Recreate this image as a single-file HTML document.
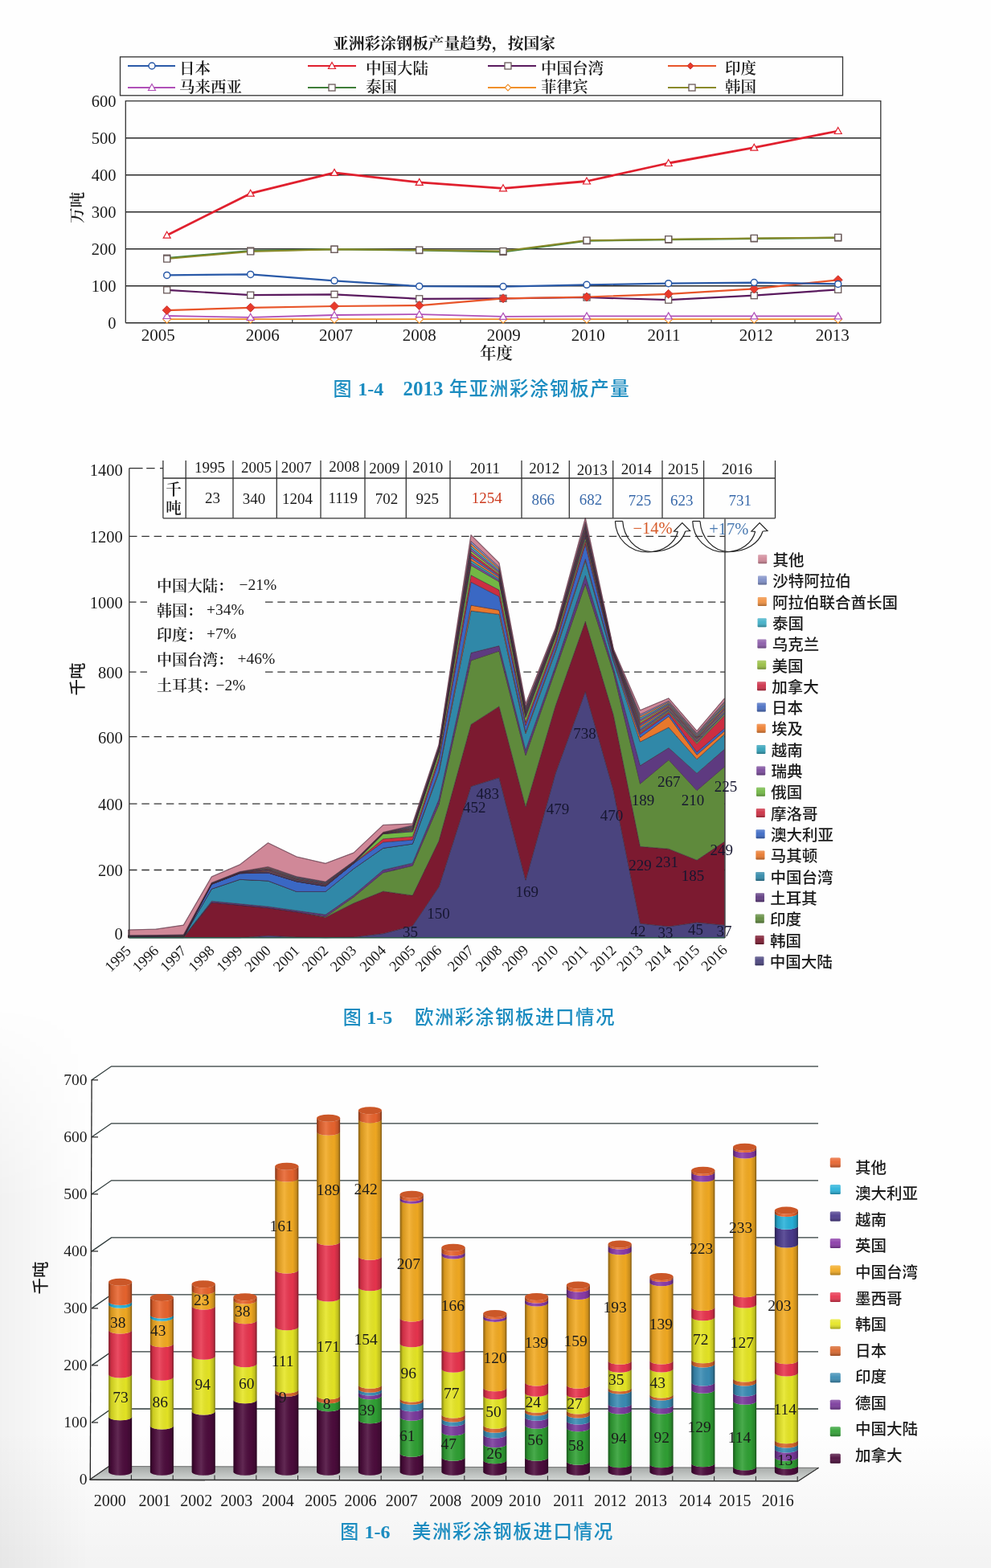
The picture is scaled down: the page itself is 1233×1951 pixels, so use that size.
<!DOCTYPE html>
<html><head><meta charset="utf-8"><title>彩涂钢板</title>
<style>html,body{margin:0;padding:0;background:#fefefe;} svg{display:block;}</style>
</head><body>
<svg width="1233" height="1951" viewBox="0 0 1233 1951"><defs><linearGradient id="cyl" x1="0" x2="1" y1="0" y2="0"><stop offset="0" stop-color="#000" stop-opacity="0.45"/><stop offset="0.12" stop-color="#000" stop-opacity="0.12"/><stop offset="0.4" stop-color="#fff" stop-opacity="0.12"/><stop offset="0.75" stop-color="#000" stop-opacity="0.02"/><stop offset="0.92" stop-color="#000" stop-opacity="0.18"/><stop offset="1" stop-color="#000" stop-opacity="0.5"/></linearGradient><linearGradient id="sqg" x1="0" x2="0" y1="0" y2="1"><stop offset="0" stop-color="#fff" stop-opacity="0.25"/><stop offset="0.45" stop-color="#fff" stop-opacity="0.05"/><stop offset="1" stop-color="#000" stop-opacity="0.3"/></linearGradient><linearGradient id="floorg" x1="0" x2="0" y1="0" y2="1"><stop offset="0" stop-color="#a4a8a6"/><stop offset="1" stop-color="#d4d8d6"/></linearGradient></defs><rect width="1233" height="1951" fill="#fefefe"/><defs><linearGradient id="bgb" x1="0" x2="0" y1="0" y2="1"><stop offset="0" stop-color="#000" stop-opacity="0"/><stop offset="1" stop-color="#000" stop-opacity="0.045"/></linearGradient><linearGradient id="bgl" x1="0" x2="1" y1="0" y2="0"><stop offset="0" stop-color="#000" stop-opacity="0.05"/><stop offset="1" stop-color="#000" stop-opacity="0"/></linearGradient><linearGradient id="bglv" x1="0" x2="0" y1="0" y2="1"><stop offset="0" stop-color="#fff" stop-opacity="0"/><stop offset="0.35" stop-color="#fff" stop-opacity="1"/></linearGradient><mask id="bgm" maskUnits="userSpaceOnUse" x="0" y="1250" width="120" height="701"><rect x="0" y="1250" width="120" height="701" fill="url(#bglv)"/></mask></defs><rect x="0" y="1780" width="1233" height="171" fill="url(#bgb)"/><rect x="0" y="1250" width="110" height="701" fill="url(#bgl)" mask="url(#bgm)"/><text x="414.0" y="54.6" font-family="'Liberation Serif', 'Noto Serif CJK SC', serif" font-size="19.5" text-anchor="start" dominant-baseline="central" fill="#1a1a1a" font-weight="700" textLength="277" lengthAdjust="spacingAndGlyphs">亚洲彩涂钢板产量趋势，按国家</text>
<rect x="149.5" y="70.8" width="899" height="48" fill="none" stroke="#333" stroke-width="1.3"/>
<path d="M156.3,401.7 L156.3,125.6 L1095.8,125.6 L1095.8,401.7" fill="none" stroke="#333" stroke-width="1.3"/>
<line x1="156.3" y1="355.7" x2="1095.8" y2="355.7" stroke="#2a2a2a" stroke-width="1.4" />
<line x1="156.3" y1="309.7" x2="1095.8" y2="309.7" stroke="#2a2a2a" stroke-width="1.4" />
<line x1="156.3" y1="263.7" x2="1095.8" y2="263.7" stroke="#2a2a2a" stroke-width="1.4" />
<line x1="156.3" y1="217.7" x2="1095.8" y2="217.7" stroke="#2a2a2a" stroke-width="1.4" />
<line x1="156.3" y1="171.7" x2="1095.8" y2="171.7" stroke="#2a2a2a" stroke-width="1.4" />
<line x1="156.3" y1="401.7" x2="1095.8" y2="401.7" stroke="#2a2a2a" stroke-width="1.6" />
<line x1="259.7" y1="401.7" x2="259.7" y2="397.7" stroke="#333" stroke-width="1.2" />
<line x1="363.8" y1="401.7" x2="363.8" y2="397.7" stroke="#333" stroke-width="1.2" />
<line x1="468.5" y1="401.7" x2="468.5" y2="397.7" stroke="#333" stroke-width="1.2" />
<line x1="573.0" y1="401.7" x2="573.0" y2="397.7" stroke="#333" stroke-width="1.2" />
<line x1="677.0" y1="401.7" x2="677.0" y2="397.7" stroke="#333" stroke-width="1.2" />
<line x1="781.0" y1="401.7" x2="781.0" y2="397.7" stroke="#333" stroke-width="1.2" />
<line x1="885.0" y1="401.7" x2="885.0" y2="397.7" stroke="#333" stroke-width="1.2" />
<line x1="989.0" y1="401.7" x2="989.0" y2="397.7" stroke="#333" stroke-width="1.2" />
<text x="144.5" y="401.7" font-family="'Liberation Serif','Noto Serif CJK SC',serif" font-size="20.5" text-anchor="end" dominant-baseline="central" fill="#1a1a1a" font-weight="normal" >0</text>
<text x="144.5" y="355.7" font-family="'Liberation Serif','Noto Serif CJK SC',serif" font-size="20.5" text-anchor="end" dominant-baseline="central" fill="#1a1a1a" font-weight="normal" >100</text>
<text x="144.5" y="309.7" font-family="'Liberation Serif','Noto Serif CJK SC',serif" font-size="20.5" text-anchor="end" dominant-baseline="central" fill="#1a1a1a" font-weight="normal" >200</text>
<text x="144.5" y="263.7" font-family="'Liberation Serif','Noto Serif CJK SC',serif" font-size="20.5" text-anchor="end" dominant-baseline="central" fill="#1a1a1a" font-weight="normal" >300</text>
<text x="144.5" y="217.7" font-family="'Liberation Serif','Noto Serif CJK SC',serif" font-size="20.5" text-anchor="end" dominant-baseline="central" fill="#1a1a1a" font-weight="normal" >400</text>
<text x="144.5" y="171.7" font-family="'Liberation Serif','Noto Serif CJK SC',serif" font-size="20.5" text-anchor="end" dominant-baseline="central" fill="#1a1a1a" font-weight="normal" >500</text>
<text x="144.5" y="125.7" font-family="'Liberation Serif','Noto Serif CJK SC',serif" font-size="20.5" text-anchor="end" dominant-baseline="central" fill="#1a1a1a" font-weight="normal" >600</text>
<text x="0" y="0" transform="translate(96.5,258.3) rotate(-90)" font-family="'Liberation Serif', 'Noto Serif CJK SC', serif" font-size="19.5" font-weight="600" text-anchor="middle" dominant-baseline="central" fill="#1a1a1a">万吨</text>
<text x="196.7" y="417.0" font-family="'Liberation Serif','Noto Serif CJK SC',serif" font-size="21" text-anchor="middle" dominant-baseline="central" fill="#1a1a1a" font-weight="normal" >2005</text>
<text x="326.7" y="417.0" font-family="'Liberation Serif','Noto Serif CJK SC',serif" font-size="21" text-anchor="middle" dominant-baseline="central" fill="#1a1a1a" font-weight="normal" >2006</text>
<text x="418.0" y="417.0" font-family="'Liberation Serif','Noto Serif CJK SC',serif" font-size="21" text-anchor="middle" dominant-baseline="central" fill="#1a1a1a" font-weight="normal" >2007</text>
<text x="521.7" y="417.0" font-family="'Liberation Serif','Noto Serif CJK SC',serif" font-size="21" text-anchor="middle" dominant-baseline="central" fill="#1a1a1a" font-weight="normal" >2008</text>
<text x="626.7" y="417.0" font-family="'Liberation Serif','Noto Serif CJK SC',serif" font-size="21" text-anchor="middle" dominant-baseline="central" fill="#1a1a1a" font-weight="normal" >2009</text>
<text x="731.7" y="417.0" font-family="'Liberation Serif','Noto Serif CJK SC',serif" font-size="21" text-anchor="middle" dominant-baseline="central" fill="#1a1a1a" font-weight="normal" >2010</text>
<text x="826.0" y="417.0" font-family="'Liberation Serif','Noto Serif CJK SC',serif" font-size="21" text-anchor="middle" dominant-baseline="central" fill="#1a1a1a" font-weight="normal" >2011</text>
<text x="940.7" y="417.0" font-family="'Liberation Serif','Noto Serif CJK SC',serif" font-size="21" text-anchor="middle" dominant-baseline="central" fill="#1a1a1a" font-weight="normal" >2012</text>
<text x="1035.7" y="417.0" font-family="'Liberation Serif','Noto Serif CJK SC',serif" font-size="21" text-anchor="middle" dominant-baseline="central" fill="#1a1a1a" font-weight="normal" >2013</text>
<text x="617.5" y="440.2" font-family="'Liberation Serif', 'Noto Serif CJK SC', serif" font-size="20.5" text-anchor="middle" dominant-baseline="central" fill="#1a1a1a" font-weight="600" >年度</text>
<polyline points="207.7,397.1 311.7,397.1 416.0,397.1 521.7,397.1 626.0,397.1 730.0,397.1 831.7,397.1 938.3,397.1 1042.7,397.1" fill="none" stroke="#f0902a" stroke-width="1.8" stroke-linejoin="round" />
<path d="M207.7,392.1 L212.7,397.1 L207.7,402.1 L202.7,397.1 Z" fill="#fff" stroke="#f0902a" stroke-width="1.2"/>
<path d="M311.7,392.1 L316.7,397.1 L311.7,402.1 L306.7,397.1 Z" fill="#fff" stroke="#f0902a" stroke-width="1.2"/>
<path d="M416.0,392.1 L421.0,397.1 L416.0,402.1 L411.0,397.1 Z" fill="#fff" stroke="#f0902a" stroke-width="1.2"/>
<path d="M521.7,392.1 L526.7,397.1 L521.7,402.1 L516.7,397.1 Z" fill="#fff" stroke="#f0902a" stroke-width="1.2"/>
<path d="M626.0,392.1 L631.0,397.1 L626.0,402.1 L621.0,397.1 Z" fill="#fff" stroke="#f0902a" stroke-width="1.2"/>
<path d="M730.0,392.1 L735.0,397.1 L730.0,402.1 L725.0,397.1 Z" fill="#fff" stroke="#f0902a" stroke-width="1.2"/>
<path d="M831.7,392.1 L836.7,397.1 L831.7,402.1 L826.7,397.1 Z" fill="#fff" stroke="#f0902a" stroke-width="1.2"/>
<path d="M938.3,392.1 L943.3,397.1 L938.3,402.1 L933.3,397.1 Z" fill="#fff" stroke="#f0902a" stroke-width="1.2"/>
<path d="M1042.7,392.1 L1047.7,397.1 L1042.7,402.1 L1037.7,397.1 Z" fill="#fff" stroke="#f0902a" stroke-width="1.2"/>
<polyline points="207.7,393.0 311.7,394.8 416.0,392.0 521.7,391.1 626.0,393.9 730.0,393.4 831.7,393.4 938.3,393.4 1042.7,393.4" fill="none" stroke="#b050b8" stroke-width="1.8" stroke-linejoin="round" />
<path d="M207.7,388.5 L212.2,396.5 L203.2,396.5 Z" fill="#fff" stroke="#b050b8" stroke-width="1.2"/>
<path d="M311.7,390.3 L316.2,398.3 L307.2,398.3 Z" fill="#fff" stroke="#b050b8" stroke-width="1.2"/>
<path d="M416.0,387.5 L420.5,395.5 L411.5,395.5 Z" fill="#fff" stroke="#b050b8" stroke-width="1.2"/>
<path d="M521.7,386.6 L526.2,394.6 L517.2,394.6 Z" fill="#fff" stroke="#b050b8" stroke-width="1.2"/>
<path d="M626.0,389.4 L630.5,397.4 L621.5,397.4 Z" fill="#fff" stroke="#b050b8" stroke-width="1.2"/>
<path d="M730.0,388.9 L734.5,396.9 L725.5,396.9 Z" fill="#fff" stroke="#b050b8" stroke-width="1.2"/>
<path d="M831.7,388.9 L836.2,396.9 L827.2,396.9 Z" fill="#fff" stroke="#b050b8" stroke-width="1.2"/>
<path d="M938.3,388.9 L942.8,396.9 L933.8,396.9 Z" fill="#fff" stroke="#b050b8" stroke-width="1.2"/>
<path d="M1042.7,388.9 L1047.2,396.9 L1038.2,396.9 Z" fill="#fff" stroke="#b050b8" stroke-width="1.2"/>
<polyline points="207.7,360.8 311.7,367.2 416.0,366.3 521.7,371.8 626.0,371.3 730.0,370.0 831.7,373.2 938.3,367.7 1042.7,360.3" fill="none" stroke="#5a1a5e" stroke-width="2.2" stroke-linejoin="round" />
<rect x="203.7" y="356.8" width="8" height="8" fill="#fff" stroke="#6a5a5a" stroke-width="1.3"/>
<rect x="307.7" y="363.2" width="8" height="8" fill="#fff" stroke="#6a5a5a" stroke-width="1.3"/>
<rect x="412.0" y="362.3" width="8" height="8" fill="#fff" stroke="#6a5a5a" stroke-width="1.3"/>
<rect x="517.7" y="367.8" width="8" height="8" fill="#fff" stroke="#6a5a5a" stroke-width="1.3"/>
<rect x="622.0" y="367.3" width="8" height="8" fill="#fff" stroke="#6a5a5a" stroke-width="1.3"/>
<rect x="726.0" y="366.0" width="8" height="8" fill="#fff" stroke="#6a5a5a" stroke-width="1.3"/>
<rect x="827.7" y="369.2" width="8" height="8" fill="#fff" stroke="#6a5a5a" stroke-width="1.3"/>
<rect x="934.3" y="363.7" width="8" height="8" fill="#fff" stroke="#6a5a5a" stroke-width="1.3"/>
<rect x="1038.7" y="356.3" width="8" height="8" fill="#fff" stroke="#6a5a5a" stroke-width="1.3"/>
<polyline points="207.7,386.1 311.7,382.8 416.0,381.0 521.7,380.1 626.0,371.3 730.0,369.5 831.7,365.8 938.3,359.4 1042.7,348.3" fill="none" stroke="#e8552a" stroke-width="2.2" stroke-linejoin="round" />
<path d="M207.7,380.6 L213.2,386.1 L207.7,391.6 L202.2,386.1 Z" fill="#e83a2a" stroke="#c83a3a" stroke-width="1"/>
<path d="M311.7,377.3 L317.2,382.8 L311.7,388.3 L306.2,382.8 Z" fill="#e83a2a" stroke="#c83a3a" stroke-width="1"/>
<path d="M416.0,375.5 L421.5,381.0 L416.0,386.5 L410.5,381.0 Z" fill="#e83a2a" stroke="#c83a3a" stroke-width="1"/>
<path d="M521.7,374.6 L527.2,380.1 L521.7,385.6 L516.2,380.1 Z" fill="#e83a2a" stroke="#c83a3a" stroke-width="1"/>
<path d="M626.0,365.8 L631.5,371.3 L626.0,376.8 L620.5,371.3 Z" fill="#e83a2a" stroke="#c83a3a" stroke-width="1"/>
<path d="M730.0,364.0 L735.5,369.5 L730.0,375.0 L724.5,369.5 Z" fill="#e83a2a" stroke="#c83a3a" stroke-width="1"/>
<path d="M831.7,360.3 L837.2,365.8 L831.7,371.3 L826.2,365.8 Z" fill="#e83a2a" stroke="#c83a3a" stroke-width="1"/>
<path d="M938.3,353.9 L943.8,359.4 L938.3,364.9 L932.8,359.4 Z" fill="#e83a2a" stroke="#c83a3a" stroke-width="1"/>
<path d="M1042.7,342.8 L1048.2,348.3 L1042.7,353.8 L1037.2,348.3 Z" fill="#e83a2a" stroke="#c83a3a" stroke-width="1"/>
<polyline points="207.7,342.4 311.7,341.4 416.0,349.3 521.7,356.2 626.0,356.6 730.0,354.3 831.7,352.7 938.3,351.6 1042.7,353.4" fill="none" stroke="#2a5aa8" stroke-width="2.2" stroke-linejoin="round" />
<circle cx="207.7" cy="342.4" r="4" fill="#fff" stroke="#2a5aa8" stroke-width="1.5"/>
<circle cx="311.7" cy="341.4" r="4" fill="#fff" stroke="#2a5aa8" stroke-width="1.5"/>
<circle cx="416.0" cy="349.3" r="4" fill="#fff" stroke="#2a5aa8" stroke-width="1.5"/>
<circle cx="521.7" cy="356.2" r="4" fill="#fff" stroke="#2a5aa8" stroke-width="1.5"/>
<circle cx="626.0" cy="356.6" r="4" fill="#fff" stroke="#2a5aa8" stroke-width="1.5"/>
<circle cx="730.0" cy="354.3" r="4" fill="#fff" stroke="#2a5aa8" stroke-width="1.5"/>
<circle cx="831.7" cy="352.7" r="4" fill="#fff" stroke="#2a5aa8" stroke-width="1.5"/>
<circle cx="938.3" cy="351.6" r="4" fill="#fff" stroke="#2a5aa8" stroke-width="1.5"/>
<circle cx="1042.7" cy="353.4" r="4" fill="#fff" stroke="#2a5aa8" stroke-width="1.5"/>
<polyline points="207.7,321.2 311.7,312.0 416.0,310.2 521.7,311.5 626.0,313.4 730.0,299.6 831.7,298.2 938.3,296.8 1042.7,295.9" fill="none" stroke="#3e7e38" stroke-width="2.2" stroke-linejoin="round" />
<rect x="203.7" y="317.2" width="8" height="8" fill="#fff" stroke="#6a5a5a" stroke-width="1.3"/>
<rect x="307.7" y="308.0" width="8" height="8" fill="#fff" stroke="#6a5a5a" stroke-width="1.3"/>
<rect x="412.0" y="306.2" width="8" height="8" fill="#fff" stroke="#6a5a5a" stroke-width="1.3"/>
<rect x="517.7" y="307.5" width="8" height="8" fill="#fff" stroke="#6a5a5a" stroke-width="1.3"/>
<rect x="622.0" y="309.4" width="8" height="8" fill="#fff" stroke="#6a5a5a" stroke-width="1.3"/>
<rect x="726.0" y="295.6" width="8" height="8" fill="#fff" stroke="#6a5a5a" stroke-width="1.3"/>
<rect x="827.7" y="294.2" width="8" height="8" fill="#fff" stroke="#6a5a5a" stroke-width="1.3"/>
<rect x="934.3" y="292.8" width="8" height="8" fill="#fff" stroke="#6a5a5a" stroke-width="1.3"/>
<rect x="1038.7" y="291.9" width="8" height="8" fill="#fff" stroke="#6a5a5a" stroke-width="1.3"/>
<polyline points="207.7,322.1 311.7,312.9 416.0,310.2 521.7,311.1 626.0,312.5 730.0,299.1 831.7,297.7 938.3,296.4 1042.7,295.4" fill="none" stroke="#8a8a2a" stroke-width="2.0" stroke-linejoin="round" />
<rect x="203.7" y="318.1" width="8" height="8" fill="#fff" stroke="#6a5a5a" stroke-width="1.3"/>
<rect x="307.7" y="308.9" width="8" height="8" fill="#fff" stroke="#6a5a5a" stroke-width="1.3"/>
<rect x="412.0" y="306.2" width="8" height="8" fill="#fff" stroke="#6a5a5a" stroke-width="1.3"/>
<rect x="517.7" y="307.1" width="8" height="8" fill="#fff" stroke="#6a5a5a" stroke-width="1.3"/>
<rect x="622.0" y="308.5" width="8" height="8" fill="#fff" stroke="#6a5a5a" stroke-width="1.3"/>
<rect x="726.0" y="295.1" width="8" height="8" fill="#fff" stroke="#6a5a5a" stroke-width="1.3"/>
<rect x="827.7" y="293.7" width="8" height="8" fill="#fff" stroke="#6a5a5a" stroke-width="1.3"/>
<rect x="934.3" y="292.4" width="8" height="8" fill="#fff" stroke="#6a5a5a" stroke-width="1.3"/>
<rect x="1038.7" y="291.4" width="8" height="8" fill="#fff" stroke="#6a5a5a" stroke-width="1.3"/>
<polyline points="207.7,292.7 311.7,240.7 416.0,214.9 521.7,226.9 626.0,234.3 730.0,225.5 831.7,203.0 938.3,183.7 1042.7,163.0" fill="none" stroke="#e0202e" stroke-width="2.8" stroke-linejoin="round" />
<path d="M207.7,288.2 L212.2,296.2 L203.2,296.2 Z" fill="#fff" stroke="#e0202e" stroke-width="1.2"/>
<path d="M311.7,236.2 L316.2,244.2 L307.2,244.2 Z" fill="#fff" stroke="#e0202e" stroke-width="1.2"/>
<path d="M416.0,210.4 L420.5,218.4 L411.5,218.4 Z" fill="#fff" stroke="#e0202e" stroke-width="1.2"/>
<path d="M521.7,222.4 L526.2,230.4 L517.2,230.4 Z" fill="#fff" stroke="#e0202e" stroke-width="1.2"/>
<path d="M626.0,229.8 L630.5,237.8 L621.5,237.8 Z" fill="#fff" stroke="#e0202e" stroke-width="1.2"/>
<path d="M730.0,221.0 L734.5,229.0 L725.5,229.0 Z" fill="#fff" stroke="#e0202e" stroke-width="1.2"/>
<path d="M831.7,198.5 L836.2,206.5 L827.2,206.5 Z" fill="#fff" stroke="#e0202e" stroke-width="1.2"/>
<path d="M938.3,179.2 L942.8,187.2 L933.8,187.2 Z" fill="#fff" stroke="#e0202e" stroke-width="1.2"/>
<path d="M1042.7,158.5 L1047.2,166.5 L1038.2,166.5 Z" fill="#fff" stroke="#e0202e" stroke-width="1.2"/>
<line x1="159.0" y1="82.0" x2="218.0" y2="82.0" stroke="#2a5aa8" stroke-width="1.8" />
<circle cx="189.0" cy="82.0" r="4" fill="#fff" stroke="#2a5aa8" stroke-width="1.5"/>
<text x="223.0" y="85.3" font-family="'Liberation Serif', 'Noto Serif CJK SC', serif" font-size="19.5" text-anchor="start" dominant-baseline="central" fill="#1a1a1a" font-weight="600" >日本</text>
<line x1="383.0" y1="82.0" x2="443.0" y2="82.0" stroke="#e0202e" stroke-width="1.8" />
<path d="M413.0,77.5 L417.5,85.5 L408.5,85.5 Z" fill="#fff" stroke="#e0202e" stroke-width="1.2"/>
<text x="455.0" y="85.3" font-family="'Liberation Serif', 'Noto Serif CJK SC', serif" font-size="19.5" text-anchor="start" dominant-baseline="central" fill="#1a1a1a" font-weight="600" >中国大陆</text>
<line x1="607.0" y1="82.0" x2="667.0" y2="82.0" stroke="#5a1a5e" stroke-width="1.8" />
<rect x="628.0" y="78.0" width="8" height="8" fill="#fff" stroke="#6a5a5a" stroke-width="1.3"/>
<text x="673.0" y="85.3" font-family="'Liberation Serif', 'Noto Serif CJK SC', serif" font-size="19.5" text-anchor="start" dominant-baseline="central" fill="#1a1a1a" font-weight="600" >中国台湾</text>
<line x1="831.0" y1="82.0" x2="891.0" y2="82.0" stroke="#e8552a" stroke-width="1.8" />
<path d="M859.0,77.9 L863.1,82.0 L859.0,86.1 L854.9,82.0 Z" fill="#e83a2a" stroke="#c83a3a" stroke-width="1"/>
<text x="902.0" y="85.3" font-family="'Liberation Serif', 'Noto Serif CJK SC', serif" font-size="19.5" text-anchor="start" dominant-baseline="central" fill="#1a1a1a" font-weight="600" >印度</text>
<line x1="159.0" y1="109.0" x2="218.0" y2="109.0" stroke="#b050b8" stroke-width="1.8" />
<path d="M189.0,104.5 L193.5,112.5 L184.5,112.5 Z" fill="#fff" stroke="#b050b8" stroke-width="1.2"/>
<text x="223.0" y="108.2" font-family="'Liberation Serif', 'Noto Serif CJK SC', serif" font-size="19.5" text-anchor="start" dominant-baseline="central" fill="#1a1a1a" font-weight="600" >马来西亚</text>
<line x1="383.0" y1="109.0" x2="443.0" y2="109.0" stroke="#3e7e38" stroke-width="1.8" />
<rect x="409.0" y="105.0" width="8" height="8" fill="#fff" stroke="#6a5a5a" stroke-width="1.3"/>
<text x="455.0" y="108.2" font-family="'Liberation Serif', 'Noto Serif CJK SC', serif" font-size="19.5" text-anchor="start" dominant-baseline="central" fill="#1a1a1a" font-weight="600" >泰国</text>
<line x1="607.0" y1="109.0" x2="667.0" y2="109.0" stroke="#f0902a" stroke-width="1.8" />
<path d="M632.0,105.2 L635.8,109.0 L632.0,112.8 L628.2,109.0 Z" fill="#fff" stroke="#f0902a" stroke-width="1.2"/>
<text x="673.0" y="108.2" font-family="'Liberation Serif', 'Noto Serif CJK SC', serif" font-size="19.5" text-anchor="start" dominant-baseline="central" fill="#1a1a1a" font-weight="600" >菲律宾</text>
<line x1="831.0" y1="109.0" x2="891.0" y2="109.0" stroke="#8a8a2a" stroke-width="1.8" />
<rect x="857.0" y="105.0" width="8" height="8" fill="#fff" stroke="#6a5a5a" stroke-width="1.3"/>
<text x="902.0" y="108.2" font-family="'Liberation Serif', 'Noto Serif CJK SC', serif" font-size="19.5" text-anchor="start" dominant-baseline="central" fill="#1a1a1a" font-weight="600" >韩国</text>
<text x="414.5" y="483.5" font-family="'Liberation Sans', 'Noto Sans CJK SC', sans-serif" font-size="23" text-anchor="start" dominant-baseline="central" fill="#1b8cc0" font-weight="500" >图</text>
<text x="445.3" y="483.8" font-family="'Liberation Serif',serif" font-size="24" text-anchor="start" dominant-baseline="central" fill="#1b8cc0" font-weight="bold" >1-4</text>
<text x="501.5" y="483.8" font-family="'Liberation Serif',serif" font-size="25" text-anchor="start" dominant-baseline="central" fill="#1b8cc0" font-weight="bold" >2013</text>
<text x="558.8" y="483.7" font-family="'Liberation Sans', 'Noto Sans CJK SC', sans-serif" font-size="23.5" text-anchor="start" dominant-baseline="central" fill="#1b8cc0" font-weight="500" textLength="224" lengthAdjust="spacing">年亚洲彩涂钢板产量</text>
<text x="152.8" y="1162.0" font-family="'Liberation Serif','Noto Serif CJK SC',serif" font-size="20.5" text-anchor="end" dominant-baseline="central" fill="#1a1a1a" font-weight="normal" >0</text>
<text x="152.8" y="1083.3" font-family="'Liberation Serif','Noto Serif CJK SC',serif" font-size="20.5" text-anchor="end" dominant-baseline="central" fill="#1a1a1a" font-weight="normal" >200</text>
<text x="152.8" y="1001.0" font-family="'Liberation Serif','Noto Serif CJK SC',serif" font-size="20.5" text-anchor="end" dominant-baseline="central" fill="#1a1a1a" font-weight="normal" >400</text>
<text x="152.8" y="917.5" font-family="'Liberation Serif','Noto Serif CJK SC',serif" font-size="20.5" text-anchor="end" dominant-baseline="central" fill="#1a1a1a" font-weight="normal" >600</text>
<text x="152.8" y="837.0" font-family="'Liberation Serif','Noto Serif CJK SC',serif" font-size="20.5" text-anchor="end" dominant-baseline="central" fill="#1a1a1a" font-weight="normal" >800</text>
<text x="152.8" y="750.0" font-family="'Liberation Serif','Noto Serif CJK SC',serif" font-size="20.5" text-anchor="end" dominant-baseline="central" fill="#1a1a1a" font-weight="normal" >1000</text>
<text x="152.8" y="668.2" font-family="'Liberation Serif','Noto Serif CJK SC',serif" font-size="20.5" text-anchor="end" dominant-baseline="central" fill="#1a1a1a" font-weight="normal" >1200</text>
<text x="152.8" y="585.0" font-family="'Liberation Serif','Noto Serif CJK SC',serif" font-size="20.5" text-anchor="end" dominant-baseline="central" fill="#1a1a1a" font-weight="normal" >1400</text>
<text x="0" y="0" transform="translate(96.6,845) rotate(-90)" font-family="'Liberation Sans', 'Noto Sans CJK SC', sans-serif" font-size="20.5" font-weight="500" text-anchor="middle" dominant-baseline="central" fill="#1a1a1a">千吨</text>
<line x1="160.8" y1="582.6" x2="177.6" y2="582.6" stroke="#333" stroke-width="1.3" />
<line x1="182.2" y1="582.6" x2="203.0" y2="582.6" stroke="#333" stroke-width="1.3" stroke-dasharray="10.4 6.4"/>
<line x1="161.0" y1="667.4" x2="902.0" y2="667.4" stroke="#333" stroke-width="1.3" stroke-dasharray="9.5 5.8"/>
<line x1="161.0" y1="749.2" x2="183.0" y2="749.2" stroke="#333" stroke-width="1.3" stroke-dasharray="8.5 5"/>
<line x1="330.0" y1="749.2" x2="902.0" y2="749.2" stroke="#333" stroke-width="1.3" stroke-dasharray="9.5 5.8"/>
<line x1="161.0" y1="836.2" x2="183.0" y2="836.2" stroke="#333" stroke-width="1.3" stroke-dasharray="8.5 5"/>
<line x1="330.0" y1="836.2" x2="902.0" y2="836.2" stroke="#333" stroke-width="1.3" stroke-dasharray="9.5 5.8"/>
<line x1="161.0" y1="916.7" x2="902.0" y2="916.7" stroke="#333" stroke-width="1.3" stroke-dasharray="9.5 5.8"/>
<line x1="161.0" y1="1000.2" x2="902.0" y2="1000.2" stroke="#333" stroke-width="1.3" stroke-dasharray="9.5 5.8"/>
<line x1="161.0" y1="1082.5" x2="902.0" y2="1082.5" stroke="#333" stroke-width="1.3" stroke-dasharray="9.5 5.8"/>
<path d="M159.5,1166.7 L194.0,1166.7 L228.3,1166.7 L263.3,1166.7 L298.3,1166.7 L333.5,1164.2 L369.0,1165.9 L405.0,1166.7 L440.0,1165.9 L476.7,1161.6 L513.3,1152.0 L546.0,1103.5 L586.0,978.5 L621.0,967.6 L654.0,1095.1 L691.0,962.6 L728.3,860.4 L763.3,983.5 L796.5,1149.0 L832.0,1152.8 L867.0,1147.8 L901.5,1151.1 L901.5,1166.7 L867.0,1166.7 L832.0,1166.7 L796.5,1166.7 L763.3,1166.7 L728.3,1166.7 L691.0,1166.7 L654.0,1166.7 L621.0,1166.7 L586.0,1166.7 L546.0,1166.7 L513.3,1166.7 L476.7,1166.7 L440.0,1166.7 L405.0,1166.7 L369.0,1166.7 L333.5,1166.7 L298.3,1166.7 L263.3,1166.7 L228.3,1166.7 L194.0,1166.7 L159.5,1166.7 Z" fill="#4a447e" stroke="#3a2436" stroke-width="0.9" stroke-opacity="0.55" stroke-linejoin="round"/>
<path d="M159.5,1166.7 L194.0,1166.7 L228.3,1166.7 L263.3,1122.9 L298.3,1126.3 L333.5,1129.7 L369.0,1134.7 L405.0,1141.4 L440.0,1123.8 L476.7,1109.0 L513.3,1114.1 L546.0,1046.3 L586.0,901.4 L621.0,878.9 L654.0,1003.9 L691.0,878.5 L728.3,773.1 L763.3,889.7 L796.5,1053.3 L832.0,1056.2 L867.0,1070.2 L901.5,1047.1 L901.5,1151.1 L867.0,1147.8 L832.0,1152.8 L796.5,1149.0 L763.3,983.5 L728.3,860.4 L691.0,962.6 L654.0,1095.1 L621.0,967.6 L586.0,978.5 L546.0,1103.5 L513.3,1152.0 L476.7,1161.6 L440.0,1165.9 L405.0,1166.7 L369.0,1165.9 L333.5,1164.2 L298.3,1166.7 L263.3,1166.7 L228.3,1166.7 L194.0,1166.7 L159.5,1166.7 Z" fill="#7c1a30" stroke="#3a2436" stroke-width="0.9" stroke-opacity="0.55" stroke-linejoin="round"/>
<path d="M159.5,1165.4 L194.0,1165.4 L228.3,1165.9 L263.3,1122.9 L298.3,1126.3 L333.5,1129.7 L369.0,1134.7 L405.0,1140.6 L440.0,1116.2 L476.7,1085.9 L513.3,1077.2 L546.0,1001.0 L586.0,821.8 L621.0,810.1 L654.0,939.7 L691.0,834.0 L728.3,726.7 L763.3,836.6 L796.5,975.2 L832.0,945.5 L867.0,983.5 L901.5,953.9 L901.5,1047.1 L867.0,1070.2 L832.0,1056.2 L796.5,1053.3 L763.3,889.7 L728.3,773.1 L691.0,878.5 L654.0,1003.9 L621.0,878.9 L586.0,901.4 L546.0,1046.3 L513.3,1114.1 L476.7,1109.0 L440.0,1123.8 L405.0,1141.4 L369.0,1134.7 L333.5,1129.7 L298.3,1126.3 L263.3,1122.9 L228.3,1166.7 L194.0,1166.7 L159.5,1166.7 Z" fill="#5f8a3c" stroke="#3a2436" stroke-width="0.9" stroke-opacity="0.55" stroke-linejoin="round"/>
<path d="M159.5,1165.4 L194.0,1165.4 L228.3,1165.9 L263.3,1121.2 L298.3,1124.6 L333.5,1128.0 L369.0,1133.0 L405.0,1138.1 L440.0,1113.7 L476.7,1082.5 L513.3,1073.9 L546.0,994.8 L586.0,812.3 L621.0,803.6 L654.0,933.4 L691.0,828.8 L728.3,716.1 L763.3,831.4 L796.5,952.6 L832.0,930.5 L867.0,962.2 L901.5,932.1 L901.5,953.9 L867.0,983.5 L832.0,945.5 L796.5,975.2 L763.3,836.6 L728.3,726.7 L691.0,834.0 L654.0,939.7 L621.0,810.1 L586.0,821.8 L546.0,1001.0 L513.3,1077.2 L476.7,1085.9 L440.0,1116.2 L405.0,1140.6 L369.0,1134.7 L333.5,1129.7 L298.3,1126.3 L263.3,1122.9 L228.3,1165.9 L194.0,1165.4 L159.5,1165.4 Z" fill="#5e3a80" stroke="#3a2436" stroke-width="0.9" stroke-opacity="0.55" stroke-linejoin="round"/>
<path d="M159.5,1165.4 L194.0,1165.4 L228.3,1165.9 L263.3,1106.1 L298.3,1094.3 L333.5,1096.0 L369.0,1109.4 L405.0,1109.4 L440.0,1080.9 L476.7,1055.3 L513.3,1050.0 L546.0,961.4 L586.0,760.1 L621.0,764.4 L654.0,912.7 L691.0,811.4 L728.3,697.7 L763.3,822.7 L796.5,923.0 L832.0,905.0 L867.0,944.7 L901.5,913.5 L901.5,932.1 L867.0,962.2 L832.0,930.5 L796.5,952.6 L763.3,831.4 L728.3,716.1 L691.0,828.8 L654.0,933.4 L621.0,803.6 L586.0,812.3 L546.0,994.8 L513.3,1073.9 L476.7,1082.5 L440.0,1113.7 L405.0,1138.1 L369.0,1133.0 L333.5,1128.0 L298.3,1124.6 L263.3,1121.2 L228.3,1165.9 L194.0,1165.4 L159.5,1165.4 Z" fill="#3088a8" stroke="#3a2436" stroke-width="0.9" stroke-opacity="0.55" stroke-linejoin="round"/>
<path d="M159.5,1165.4 L194.0,1165.4 L228.3,1165.9 L263.3,1106.1 L298.3,1094.3 L333.5,1096.0 L369.0,1109.4 L405.0,1109.4 L440.0,1080.9 L476.7,1055.3 L513.3,1050.0 L546.0,959.3 L586.0,753.1 L621.0,759.2 L654.0,910.7 L691.0,809.2 L728.3,695.6 L763.3,821.4 L796.5,917.5 L832.0,891.3 L867.0,939.2 L901.5,909.5 L901.5,913.5 L867.0,944.7 L832.0,905.0 L796.5,923.0 L763.3,822.7 L728.3,697.7 L691.0,811.4 L654.0,912.7 L621.0,764.4 L586.0,760.1 L546.0,961.4 L513.3,1050.0 L476.7,1055.3 L440.0,1080.9 L405.0,1109.4 L369.0,1109.4 L333.5,1096.0 L298.3,1094.3 L263.3,1106.1 L228.3,1165.9 L194.0,1165.4 L159.5,1165.4 Z" fill="#e8782c" stroke="#3a2436" stroke-width="0.9" stroke-opacity="0.55" stroke-linejoin="round"/>
<path d="M159.5,1165.4 L194.0,1165.4 L228.3,1165.9 L263.3,1100.2 L298.3,1086.7 L333.5,1085.9 L369.0,1096.8 L405.0,1102.7 L440.0,1074.3 L476.7,1047.9 L513.3,1045.1 L546.0,946.8 L586.0,724.3 L621.0,742.2 L654.0,902.6 L691.0,802.7 L728.3,677.2 L763.3,817.9 L796.5,913.5 L832.0,888.1 L867.0,935.9 L901.5,906.2 L901.5,909.5 L867.0,939.2 L832.0,891.3 L796.5,917.5 L763.3,821.4 L728.3,695.6 L691.0,809.2 L654.0,910.7 L621.0,759.2 L586.0,753.1 L546.0,959.3 L513.3,1050.0 L476.7,1055.3 L440.0,1080.9 L405.0,1109.4 L369.0,1109.4 L333.5,1096.0 L298.3,1094.3 L263.3,1106.1 L228.3,1165.9 L194.0,1165.4 L159.5,1165.4 Z" fill="#3a68c4" stroke="#3a2436" stroke-width="0.9" stroke-opacity="0.55" stroke-linejoin="round"/>
<path d="M159.5,1165.4 L194.0,1165.4 L228.3,1165.9 L263.3,1100.2 L298.3,1086.7 L333.5,1085.9 L369.0,1096.8 L405.0,1102.7 L440.0,1074.3 L476.7,1043.8 L513.3,1040.9 L546.0,942.6 L586.0,715.7 L621.0,734.1 L654.0,898.6 L691.0,798.4 L728.3,673.1 L763.3,815.8 L796.5,911.5 L832.0,886.1 L867.0,925.5 L901.5,890.1 L901.5,906.2 L867.0,935.9 L832.0,888.1 L796.5,913.5 L763.3,817.9 L728.3,677.2 L691.0,802.7 L654.0,902.6 L621.0,742.2 L586.0,724.3 L546.0,946.8 L513.3,1045.1 L476.7,1047.9 L440.0,1074.3 L405.0,1102.7 L369.0,1096.8 L333.5,1085.9 L298.3,1086.7 L263.3,1100.2 L228.3,1165.9 L194.0,1165.4 L159.5,1165.4 Z" fill="#cc2e42" stroke="#3a2436" stroke-width="0.9" stroke-opacity="0.55" stroke-linejoin="round"/>
<path d="M159.5,1165.4 L194.0,1165.4 L228.3,1165.9 L263.3,1100.2 L298.3,1086.7 L333.5,1085.9 L369.0,1096.8 L405.0,1102.7 L440.0,1074.3 L476.7,1037.6 L513.3,1034.8 L546.0,936.3 L586.0,703.4 L621.0,723.8 L654.0,892.6 L691.0,793.1 L728.3,669.0 L763.3,814.0 L796.5,909.9 L832.0,884.5 L867.0,923.8 L901.5,888.1 L901.5,890.1 L867.0,925.5 L832.0,886.1 L796.5,911.5 L763.3,815.8 L728.3,673.1 L691.0,798.4 L654.0,898.6 L621.0,734.1 L586.0,715.7 L546.0,942.6 L513.3,1040.9 L476.7,1043.8 L440.0,1074.3 L405.0,1102.7 L369.0,1096.8 L333.5,1085.9 L298.3,1086.7 L263.3,1100.2 L228.3,1165.9 L194.0,1165.4 L159.5,1165.4 Z" fill="#72b844" stroke="#3a2436" stroke-width="0.9" stroke-opacity="0.55" stroke-linejoin="round"/>
<path d="M159.5,1165.3 L194.0,1165.3 L228.3,1165.6 L263.3,1100.0 L298.3,1086.5 L333.5,1085.1 L369.0,1096.2 L405.0,1102.1 L440.0,1074.0 L476.7,1037.4 L513.3,1034.0 L546.0,935.6 L586.0,700.4 L621.0,722.0 L654.0,891.2 L691.0,792.2 L728.3,667.1 L763.3,813.5 L796.5,907.8 L832.0,883.2 L867.0,922.6 L901.5,886.6 L901.5,888.1 L867.0,923.8 L832.0,884.5 L796.5,909.9 L763.3,814.0 L728.3,669.0 L691.0,793.1 L654.0,892.6 L621.0,723.8 L586.0,703.4 L546.0,936.3 L513.3,1034.8 L476.7,1037.6 L440.0,1074.3 L405.0,1102.7 L369.0,1096.8 L333.5,1085.9 L298.3,1086.7 L263.3,1100.2 L228.3,1165.9 L194.0,1165.4 L159.5,1165.4 Z" fill="#7a4a9c" stroke="#3a2436" stroke-width="0.9" stroke-opacity="0.55" stroke-linejoin="round"/>
<path d="M159.5,1165.1 L194.0,1165.1 L228.3,1165.3 L263.3,1099.8 L298.3,1086.3 L333.5,1084.4 L369.0,1095.6 L405.0,1101.6 L440.0,1073.7 L476.7,1037.2 L513.3,1033.2 L546.0,934.8 L586.0,697.4 L621.0,720.1 L654.0,889.8 L691.0,791.3 L728.3,665.2 L763.3,813.0 L796.5,905.7 L832.0,882.0 L867.0,921.5 L901.5,885.0 L901.5,886.6 L867.0,922.6 L832.0,883.2 L796.5,907.8 L763.3,813.5 L728.3,667.1 L691.0,792.2 L654.0,891.2 L621.0,722.0 L586.0,700.4 L546.0,935.6 L513.3,1034.0 L476.7,1037.4 L440.0,1074.0 L405.0,1102.1 L369.0,1096.2 L333.5,1085.1 L298.3,1086.5 L263.3,1100.0 L228.3,1165.6 L194.0,1165.3 L159.5,1165.3 Z" fill="#30a0b8" stroke="#3a2436" stroke-width="0.9" stroke-opacity="0.55" stroke-linejoin="round"/>
<path d="M159.5,1164.9 L194.0,1164.9 L228.3,1165.0 L263.3,1099.6 L298.3,1086.1 L333.5,1083.6 L369.0,1094.9 L405.0,1101.0 L440.0,1073.5 L476.7,1037.0 L513.3,1032.4 L546.0,934.0 L586.0,694.4 L621.0,718.2 L654.0,888.5 L691.0,790.4 L728.3,663.2 L763.3,812.4 L796.5,903.6 L832.0,880.7 L867.0,920.3 L901.5,883.5 L901.5,885.0 L867.0,921.5 L832.0,882.0 L796.5,905.7 L763.3,813.0 L728.3,665.2 L691.0,791.3 L654.0,889.8 L621.0,720.1 L586.0,697.4 L546.0,934.8 L513.3,1033.2 L476.7,1037.2 L440.0,1073.7 L405.0,1101.6 L369.0,1095.6 L333.5,1084.4 L298.3,1086.3 L263.3,1099.8 L228.3,1165.3 L194.0,1165.1 L159.5,1165.1 Z" fill="#ee7e30" stroke="#3a2436" stroke-width="0.9" stroke-opacity="0.55" stroke-linejoin="round"/>
<path d="M159.5,1164.8 L194.0,1164.7 L228.3,1164.7 L263.3,1099.4 L298.3,1085.8 L333.5,1082.8 L369.0,1094.3 L405.0,1100.4 L440.0,1073.2 L476.7,1036.8 L513.3,1031.6 L546.0,933.2 L586.0,691.4 L621.0,716.4 L654.0,887.1 L691.0,789.5 L728.3,661.2 L763.3,811.9 L796.5,901.5 L832.0,879.5 L867.0,919.1 L901.5,881.9 L901.5,883.5 L867.0,920.3 L832.0,880.7 L796.5,903.6 L763.3,812.4 L728.3,663.2 L691.0,790.4 L654.0,888.5 L621.0,718.2 L586.0,694.4 L546.0,934.0 L513.3,1032.4 L476.7,1037.0 L440.0,1073.5 L405.0,1101.0 L369.0,1094.9 L333.5,1083.6 L298.3,1086.1 L263.3,1099.6 L228.3,1165.0 L194.0,1164.9 L159.5,1164.9 Z" fill="#4a6ec2" stroke="#3a2436" stroke-width="0.9" stroke-opacity="0.55" stroke-linejoin="round"/>
<path d="M159.5,1164.6 L194.0,1164.5 L228.3,1164.4 L263.3,1099.3 L298.3,1085.6 L333.5,1082.1 L369.0,1093.7 L405.0,1099.8 L440.0,1073.0 L476.7,1036.5 L513.3,1030.8 L546.0,932.5 L586.0,688.3 L621.0,714.5 L654.0,885.8 L691.0,788.6 L728.3,659.3 L763.3,811.4 L796.5,899.4 L832.0,878.2 L867.0,918.0 L901.5,880.4 L901.5,881.9 L867.0,919.1 L832.0,879.5 L796.5,901.5 L763.3,811.9 L728.3,661.2 L691.0,789.5 L654.0,887.1 L621.0,716.4 L586.0,691.4 L546.0,933.2 L513.3,1031.6 L476.7,1036.8 L440.0,1073.2 L405.0,1100.4 L369.0,1094.3 L333.5,1082.8 L298.3,1085.8 L263.3,1099.4 L228.3,1164.7 L194.0,1164.7 L159.5,1164.8 Z" fill="#cc3048" stroke="#3a2436" stroke-width="0.9" stroke-opacity="0.55" stroke-linejoin="round"/>
<path d="M159.5,1164.4 L194.0,1164.3 L228.3,1164.1 L263.3,1099.1 L298.3,1085.4 L333.5,1081.3 L369.0,1093.1 L405.0,1099.3 L440.0,1072.7 L476.7,1036.3 L513.3,1030.0 L546.0,931.7 L586.0,685.3 L621.0,712.7 L654.0,884.4 L691.0,787.7 L728.3,657.3 L763.3,810.9 L796.5,897.3 L832.0,877.0 L867.0,916.8 L901.5,878.8 L901.5,880.4 L867.0,918.0 L832.0,878.2 L796.5,899.4 L763.3,811.4 L728.3,659.3 L691.0,788.6 L654.0,885.8 L621.0,714.5 L586.0,688.3 L546.0,932.5 L513.3,1030.8 L476.7,1036.5 L440.0,1073.0 L405.0,1099.8 L369.0,1093.7 L333.5,1082.1 L298.3,1085.6 L263.3,1099.3 L228.3,1164.4 L194.0,1164.5 L159.5,1164.6 Z" fill="#98be42" stroke="#3a2436" stroke-width="0.9" stroke-opacity="0.55" stroke-linejoin="round"/>
<path d="M159.5,1164.3 L194.0,1164.1 L228.3,1163.8 L263.3,1098.9 L298.3,1085.2 L333.5,1080.6 L369.0,1092.5 L405.0,1098.7 L440.0,1072.4 L476.7,1036.1 L513.3,1029.2 L546.0,930.9 L586.0,682.3 L621.0,710.8 L654.0,883.1 L691.0,786.8 L728.3,655.3 L763.3,810.4 L796.5,895.2 L832.0,875.7 L867.0,915.7 L901.5,877.3 L901.5,878.8 L867.0,916.8 L832.0,877.0 L796.5,897.3 L763.3,810.9 L728.3,657.3 L691.0,787.7 L654.0,884.4 L621.0,712.7 L586.0,685.3 L546.0,931.7 L513.3,1030.0 L476.7,1036.3 L440.0,1072.7 L405.0,1099.3 L369.0,1093.1 L333.5,1081.3 L298.3,1085.4 L263.3,1099.1 L228.3,1164.1 L194.0,1164.3 L159.5,1164.4 Z" fill="#8a5aa8" stroke="#3a2436" stroke-width="0.9" stroke-opacity="0.55" stroke-linejoin="round"/>
<path d="M159.5,1164.1 L194.0,1164.0 L228.3,1163.5 L263.3,1098.7 L298.3,1085.0 L333.5,1079.9 L369.0,1091.8 L405.0,1098.1 L440.0,1072.2 L476.7,1035.9 L513.3,1028.4 L546.0,930.2 L586.0,679.3 L621.0,708.9 L654.0,881.7 L691.0,785.9 L728.3,653.4 L763.3,809.8 L796.5,893.1 L832.0,874.5 L867.0,914.5 L901.5,875.8 L901.5,877.3 L867.0,915.7 L832.0,875.7 L796.5,895.2 L763.3,810.4 L728.3,655.3 L691.0,786.8 L654.0,883.1 L621.0,710.8 L586.0,682.3 L546.0,930.9 L513.3,1029.2 L476.7,1036.1 L440.0,1072.4 L405.0,1098.7 L369.0,1092.5 L333.5,1080.6 L298.3,1085.2 L263.3,1098.9 L228.3,1163.8 L194.0,1164.1 L159.5,1164.3 Z" fill="#40b0c8" stroke="#3a2436" stroke-width="0.9" stroke-opacity="0.55" stroke-linejoin="round"/>
<path d="M159.5,1163.9 L194.0,1163.8 L228.3,1163.2 L263.3,1098.5 L298.3,1084.7 L333.5,1079.1 L369.0,1091.2 L405.0,1097.6 L440.0,1071.9 L476.7,1035.6 L513.3,1027.7 L546.0,929.4 L586.0,676.3 L621.0,707.1 L654.0,880.4 L691.0,785.0 L728.3,651.4 L763.3,809.3 L796.5,891.0 L832.0,873.2 L867.0,913.4 L901.5,874.2 L901.5,875.8 L867.0,914.5 L832.0,874.5 L796.5,893.1 L763.3,809.8 L728.3,653.4 L691.0,785.9 L654.0,881.7 L621.0,708.9 L586.0,679.3 L546.0,930.2 L513.3,1028.4 L476.7,1035.9 L440.0,1072.2 L405.0,1098.1 L369.0,1091.8 L333.5,1079.9 L298.3,1085.0 L263.3,1098.7 L228.3,1163.5 L194.0,1164.0 L159.5,1164.1 Z" fill="#f09040" stroke="#3a2436" stroke-width="0.9" stroke-opacity="0.55" stroke-linejoin="round"/>
<path d="M159.5,1163.8 L194.0,1163.6 L228.3,1162.9 L263.3,1098.3 L298.3,1084.5 L333.5,1078.4 L369.0,1090.6 L405.0,1097.0 L440.0,1071.6 L476.7,1035.4 L513.3,1026.9 L546.0,928.6 L586.0,673.3 L621.0,705.2 L654.0,879.0 L691.0,784.1 L728.3,649.4 L763.3,808.8 L796.5,888.9 L832.0,871.9 L867.0,912.3 L901.5,872.7 L901.5,874.2 L867.0,913.4 L832.0,873.2 L796.5,891.0 L763.3,809.3 L728.3,651.4 L691.0,785.0 L654.0,880.4 L621.0,707.1 L586.0,676.3 L546.0,929.4 L513.3,1027.7 L476.7,1035.6 L440.0,1071.9 L405.0,1097.6 L369.0,1091.2 L333.5,1079.1 L298.3,1084.7 L263.3,1098.5 L228.3,1163.2 L194.0,1163.8 L159.5,1163.9 Z" fill="#7e8ec6" stroke="#3a2436" stroke-width="0.9" stroke-opacity="0.55" stroke-linejoin="round"/>
<path d="M159.5,1157.0 L194.0,1156.2 L228.3,1151.1 L263.3,1090.9 L298.3,1075.9 L333.5,1048.8 L369.0,1066.0 L405.0,1074.3 L440.0,1061.1 L476.7,1026.5 L513.3,1024.9 L546.0,926.7 L586.0,665.7 L621.0,700.5 L654.0,875.6 L691.0,781.8 L728.3,644.5 L763.3,807.5 L796.5,883.7 L832.0,868.8 L867.0,909.5 L901.5,868.8 L901.5,872.7 L867.0,912.3 L832.0,871.9 L796.5,888.9 L763.3,808.8 L728.3,649.4 L691.0,784.1 L654.0,879.0 L621.0,705.2 L586.0,673.3 L546.0,928.6 L513.3,1026.9 L476.7,1035.4 L440.0,1071.6 L405.0,1097.0 L369.0,1090.6 L333.5,1078.4 L298.3,1084.5 L263.3,1098.3 L228.3,1162.9 L194.0,1163.6 L159.5,1163.8 Z" fill="#d08898" stroke="#3a2436" stroke-width="0.9" stroke-opacity="0.55" stroke-linejoin="round"/>
<polyline points="159.5,1157.0 194.0,1156.2 228.3,1151.1 263.3,1090.9 298.3,1075.9 333.5,1048.8 369.0,1066.0 405.0,1074.3 440.0,1061.1 476.7,1026.5 513.3,1024.9 546.0,926.7 586.0,665.7 621.0,700.5 654.0,875.6 691.0,781.8 728.3,644.5 763.3,807.5 796.5,883.7 832.0,868.8 867.0,909.5 901.5,868.8" fill="none" stroke="#7a4a5a" stroke-width="1.2" stroke-linejoin="round" stroke-opacity="0.6"/>
<line x1="160.8" y1="582.6" x2="160.8" y2="1167.0" stroke="#333" stroke-width="1.3" />
<line x1="160.8" y1="1166.8" x2="902.0" y2="1166.8" stroke="#2a5a4a" stroke-width="1.6" />
<line x1="902.0" y1="645.5" x2="902.0" y2="1167.0" stroke="#333" stroke-width="1.3" />
<text x="0" y="0" transform="translate(164.0,1184.2) rotate(-45)" font-family="'Liberation Serif','Noto Serif CJK SC',serif" font-size="18.5" text-anchor="end" fill="#1a1a1a">1995</text>
<text x="0" y="0" transform="translate(198.5,1184.2) rotate(-45)" font-family="'Liberation Serif','Noto Serif CJK SC',serif" font-size="18.5" text-anchor="end" fill="#1a1a1a">1996</text>
<text x="0" y="0" transform="translate(232.8,1184.1) rotate(-45)" font-family="'Liberation Serif','Noto Serif CJK SC',serif" font-size="18.5" text-anchor="end" fill="#1a1a1a">1997</text>
<text x="0" y="0" transform="translate(267.8,1184.0) rotate(-45)" font-family="'Liberation Serif','Noto Serif CJK SC',serif" font-size="18.5" text-anchor="end" fill="#1a1a1a">1998</text>
<text x="0" y="0" transform="translate(302.8,1184.0) rotate(-45)" font-family="'Liberation Serif','Noto Serif CJK SC',serif" font-size="18.5" text-anchor="end" fill="#1a1a1a">1999</text>
<text x="0" y="0" transform="translate(338.0,1184.0) rotate(-45)" font-family="'Liberation Serif','Noto Serif CJK SC',serif" font-size="18.5" text-anchor="end" fill="#1a1a1a">2000</text>
<text x="0" y="0" transform="translate(373.5,1183.9) rotate(-45)" font-family="'Liberation Serif','Noto Serif CJK SC',serif" font-size="18.5" text-anchor="end" fill="#1a1a1a">2001</text>
<text x="0" y="0" transform="translate(409.5,1183.9) rotate(-45)" font-family="'Liberation Serif','Noto Serif CJK SC',serif" font-size="18.5" text-anchor="end" fill="#1a1a1a">2002</text>
<text x="0" y="0" transform="translate(444.5,1183.8) rotate(-45)" font-family="'Liberation Serif','Noto Serif CJK SC',serif" font-size="18.5" text-anchor="end" fill="#1a1a1a">2003</text>
<text x="0" y="0" transform="translate(481.2,1183.8) rotate(-45)" font-family="'Liberation Serif','Noto Serif CJK SC',serif" font-size="18.5" text-anchor="end" fill="#1a1a1a">2004</text>
<text x="0" y="0" transform="translate(517.8,1183.7) rotate(-45)" font-family="'Liberation Serif','Noto Serif CJK SC',serif" font-size="18.5" text-anchor="end" fill="#1a1a1a">2005</text>
<text x="0" y="0" transform="translate(550.5,1183.7) rotate(-45)" font-family="'Liberation Serif','Noto Serif CJK SC',serif" font-size="18.5" text-anchor="end" fill="#1a1a1a">2006</text>
<text x="0" y="0" transform="translate(590.5,1183.6) rotate(-45)" font-family="'Liberation Serif','Noto Serif CJK SC',serif" font-size="18.5" text-anchor="end" fill="#1a1a1a">2007</text>
<text x="0" y="0" transform="translate(625.5,1183.5) rotate(-45)" font-family="'Liberation Serif','Noto Serif CJK SC',serif" font-size="18.5" text-anchor="end" fill="#1a1a1a">2008</text>
<text x="0" y="0" transform="translate(658.5,1183.5) rotate(-45)" font-family="'Liberation Serif','Noto Serif CJK SC',serif" font-size="18.5" text-anchor="end" fill="#1a1a1a">2009</text>
<text x="0" y="0" transform="translate(695.5,1183.5) rotate(-45)" font-family="'Liberation Serif','Noto Serif CJK SC',serif" font-size="18.5" text-anchor="end" fill="#1a1a1a">2010</text>
<text x="0" y="0" transform="translate(732.8,1183.4) rotate(-45)" font-family="'Liberation Serif','Noto Serif CJK SC',serif" font-size="18.5" text-anchor="end" fill="#1a1a1a">2011</text>
<text x="0" y="0" transform="translate(767.8,1183.4) rotate(-45)" font-family="'Liberation Serif','Noto Serif CJK SC',serif" font-size="18.5" text-anchor="end" fill="#1a1a1a">2012</text>
<text x="0" y="0" transform="translate(801.0,1183.3) rotate(-45)" font-family="'Liberation Serif','Noto Serif CJK SC',serif" font-size="18.5" text-anchor="end" fill="#1a1a1a">2013</text>
<text x="0" y="0" transform="translate(836.5,1183.2) rotate(-45)" font-family="'Liberation Serif','Noto Serif CJK SC',serif" font-size="18.5" text-anchor="end" fill="#1a1a1a">2014</text>
<text x="0" y="0" transform="translate(871.5,1183.2) rotate(-45)" font-family="'Liberation Serif','Noto Serif CJK SC',serif" font-size="18.5" text-anchor="end" fill="#1a1a1a">2015</text>
<text x="0" y="0" transform="translate(906.0,1183.2) rotate(-45)" font-family="'Liberation Serif','Noto Serif CJK SC',serif" font-size="18.5" text-anchor="end" fill="#1a1a1a">2016</text>
<text x="510.4" y="1159.9" font-family="'Liberation Serif','Noto Serif CJK SC',serif" font-size="19" text-anchor="middle" dominant-baseline="central" fill="#161630" font-weight="normal" >35</text>
<text x="545.6" y="1136.3" font-family="'Liberation Serif','Noto Serif CJK SC',serif" font-size="19" text-anchor="middle" dominant-baseline="central" fill="#161630" font-weight="normal" >150</text>
<text x="590.3" y="1004.6" font-family="'Liberation Serif','Noto Serif CJK SC',serif" font-size="19" text-anchor="middle" dominant-baseline="central" fill="#161630" font-weight="normal" >452</text>
<text x="606.8" y="987.2" font-family="'Liberation Serif','Noto Serif CJK SC',serif" font-size="19" text-anchor="middle" dominant-baseline="central" fill="#161630" font-weight="normal" >483</text>
<text x="655.7" y="1109.7" font-family="'Liberation Serif','Noto Serif CJK SC',serif" font-size="19" text-anchor="middle" dominant-baseline="central" fill="#161630" font-weight="normal" >169</text>
<text x="694.0" y="1006.8" font-family="'Liberation Serif','Noto Serif CJK SC',serif" font-size="19" text-anchor="middle" dominant-baseline="central" fill="#161630" font-weight="normal" >479</text>
<text x="727.5" y="912.5" font-family="'Liberation Serif','Noto Serif CJK SC',serif" font-size="19" text-anchor="middle" dominant-baseline="central" fill="#161630" font-weight="normal" >738</text>
<text x="761.0" y="1014.0" font-family="'Liberation Serif','Noto Serif CJK SC',serif" font-size="19" text-anchor="middle" dominant-baseline="central" fill="#161630" font-weight="normal" >470</text>
<text x="800.1" y="995.0" font-family="'Liberation Serif','Noto Serif CJK SC',serif" font-size="19" text-anchor="middle" dominant-baseline="central" fill="#161630" font-weight="normal" >189</text>
<text x="832.3" y="972.4" font-family="'Liberation Serif','Noto Serif CJK SC',serif" font-size="19" text-anchor="middle" dominant-baseline="central" fill="#161630" font-weight="normal" >267</text>
<text x="862.0" y="995.0" font-family="'Liberation Serif','Noto Serif CJK SC',serif" font-size="19" text-anchor="middle" dominant-baseline="central" fill="#161630" font-weight="normal" >210</text>
<text x="902.9" y="978.5" font-family="'Liberation Serif','Noto Serif CJK SC',serif" font-size="19" text-anchor="middle" dominant-baseline="central" fill="#161630" font-weight="normal" >225</text>
<text x="796.6" y="1076.0" font-family="'Liberation Serif','Noto Serif CJK SC',serif" font-size="19" text-anchor="middle" dominant-baseline="central" fill="#161630" font-weight="normal" >229</text>
<text x="829.7" y="1072.6" font-family="'Liberation Serif','Noto Serif CJK SC',serif" font-size="19" text-anchor="middle" dominant-baseline="central" fill="#161630" font-weight="normal" >231</text>
<text x="862.0" y="1089.0" font-family="'Liberation Serif','Noto Serif CJK SC',serif" font-size="19" text-anchor="middle" dominant-baseline="central" fill="#161630" font-weight="normal" >185</text>
<text x="897.7" y="1057.0" font-family="'Liberation Serif','Noto Serif CJK SC',serif" font-size="19" text-anchor="middle" dominant-baseline="central" fill="#161630" font-weight="normal" >249</text>
<text x="794.0" y="1158.0" font-family="'Liberation Serif','Noto Serif CJK SC',serif" font-size="19" text-anchor="middle" dominant-baseline="central" fill="#161630" font-weight="normal" >42</text>
<text x="828.0" y="1160.0" font-family="'Liberation Serif','Noto Serif CJK SC',serif" font-size="19" text-anchor="middle" dominant-baseline="central" fill="#161630" font-weight="normal" >33</text>
<text x="865.4" y="1156.0" font-family="'Liberation Serif','Noto Serif CJK SC',serif" font-size="19" text-anchor="middle" dominant-baseline="central" fill="#161630" font-weight="normal" >45</text>
<text x="901.0" y="1158.0" font-family="'Liberation Serif','Noto Serif CJK SC',serif" font-size="19" text-anchor="middle" dominant-baseline="central" fill="#161630" font-weight="normal" >37</text>
<text x="195.0" y="729.1" font-family="'Liberation Serif', 'Noto Serif CJK SC', serif" font-size="19" text-anchor="start" dominant-baseline="central" fill="#1a1a1a" font-weight="600" >中国大陆：</text>
<text x="297.5" y="727.9" font-family="'Liberation Serif','Noto Serif CJK SC',serif" font-size="19.5" text-anchor="start" dominant-baseline="central" fill="#1a1a1a" font-weight="normal" >−21%</text>
<text x="195.0" y="760.1" font-family="'Liberation Serif', 'Noto Serif CJK SC', serif" font-size="19" text-anchor="start" dominant-baseline="central" fill="#1a1a1a" font-weight="600" >韩国：</text>
<text x="257.0" y="758.9" font-family="'Liberation Serif','Noto Serif CJK SC',serif" font-size="19.5" text-anchor="start" dominant-baseline="central" fill="#1a1a1a" font-weight="normal" >+34%</text>
<text x="195.0" y="790.1" font-family="'Liberation Serif', 'Noto Serif CJK SC', serif" font-size="19" text-anchor="start" dominant-baseline="central" fill="#1a1a1a" font-weight="600" >印度：</text>
<text x="257.0" y="788.9" font-family="'Liberation Serif','Noto Serif CJK SC',serif" font-size="19.5" text-anchor="start" dominant-baseline="central" fill="#1a1a1a" font-weight="normal" >+7%</text>
<text x="195.0" y="821.1" font-family="'Liberation Serif', 'Noto Serif CJK SC', serif" font-size="19" text-anchor="start" dominant-baseline="central" fill="#1a1a1a" font-weight="600" >中国台湾：</text>
<text x="295.5" y="819.9" font-family="'Liberation Serif','Noto Serif CJK SC',serif" font-size="19.5" text-anchor="start" dominant-baseline="central" fill="#1a1a1a" font-weight="normal" >+46%</text>
<text x="195.0" y="853.5" font-family="'Liberation Serif', 'Noto Serif CJK SC', serif" font-size="19" text-anchor="start" dominant-baseline="central" fill="#1a1a1a" font-weight="600" >土耳其：</text>
<text x="268.5" y="852.3" font-family="'Liberation Serif','Noto Serif CJK SC',serif" font-size="19.5" text-anchor="start" dominant-baseline="central" fill="#1a1a1a" font-weight="normal" >−2%</text>
<line x1="202.9" y1="573.0" x2="202.9" y2="644.8" stroke="#333" stroke-width="1.3" />
<line x1="231.2" y1="573.0" x2="231.2" y2="644.8" stroke="#333" stroke-width="1.3" />
<line x1="290.0" y1="573.0" x2="290.0" y2="644.8" stroke="#333" stroke-width="1.3" />
<line x1="344.3" y1="573.0" x2="344.3" y2="644.8" stroke="#333" stroke-width="1.3" />
<line x1="399.0" y1="573.0" x2="399.0" y2="644.8" stroke="#333" stroke-width="1.3" />
<line x1="454.0" y1="573.0" x2="454.0" y2="644.8" stroke="#333" stroke-width="1.3" />
<line x1="505.3" y1="573.0" x2="505.3" y2="644.8" stroke="#333" stroke-width="1.3" />
<line x1="560.0" y1="573.0" x2="560.0" y2="644.8" stroke="#333" stroke-width="1.3" />
<line x1="649.0" y1="573.0" x2="649.0" y2="644.8" stroke="#333" stroke-width="1.3" />
<line x1="708.3" y1="573.0" x2="708.3" y2="644.8" stroke="#333" stroke-width="1.3" />
<line x1="762.7" y1="573.0" x2="762.7" y2="644.8" stroke="#333" stroke-width="1.3" />
<line x1="824.0" y1="573.0" x2="824.0" y2="644.8" stroke="#333" stroke-width="1.3" />
<line x1="875.6" y1="573.0" x2="875.6" y2="644.8" stroke="#333" stroke-width="1.3" />
<line x1="964.5" y1="573.0" x2="964.5" y2="644.8" stroke="#333" stroke-width="1.3" />
<line x1="202.9" y1="595.0" x2="964.5" y2="595.0" stroke="#333" stroke-width="1.3" />
<line x1="202.9" y1="644.8" x2="964.5" y2="644.8" stroke="#333" stroke-width="1.3" />
<text x="216.0" y="609.2" font-family="'Liberation Serif', 'Noto Serif CJK SC', serif" font-size="19.5" text-anchor="middle" dominant-baseline="central" fill="#1a1a1a" font-weight="600" >千</text>
<text x="216.0" y="632.9" font-family="'Liberation Serif', 'Noto Serif CJK SC', serif" font-size="19.5" text-anchor="middle" dominant-baseline="central" fill="#1a1a1a" font-weight="600" >吨</text>
<text x="261.0" y="581.7" font-family="'Liberation Serif','Noto Serif CJK SC',serif" font-size="19" text-anchor="middle" dominant-baseline="central" fill="#1a1a1a" font-weight="normal" >1995</text>
<text x="319.0" y="581.7" font-family="'Liberation Serif','Noto Serif CJK SC',serif" font-size="19" text-anchor="middle" dominant-baseline="central" fill="#1a1a1a" font-weight="normal" >2005</text>
<text x="368.7" y="581.7" font-family="'Liberation Serif','Noto Serif CJK SC',serif" font-size="19" text-anchor="middle" dominant-baseline="central" fill="#1a1a1a" font-weight="normal" >2007</text>
<text x="428.3" y="580.0" font-family="'Liberation Serif','Noto Serif CJK SC',serif" font-size="19" text-anchor="middle" dominant-baseline="central" fill="#1a1a1a" font-weight="normal" >2008</text>
<text x="478.3" y="582.0" font-family="'Liberation Serif','Noto Serif CJK SC',serif" font-size="19" text-anchor="middle" dominant-baseline="central" fill="#1a1a1a" font-weight="normal" >2009</text>
<text x="532.3" y="581.7" font-family="'Liberation Serif','Noto Serif CJK SC',serif" font-size="19" text-anchor="middle" dominant-baseline="central" fill="#1a1a1a" font-weight="normal" >2010</text>
<text x="603.3" y="582.0" font-family="'Liberation Serif','Noto Serif CJK SC',serif" font-size="19" text-anchor="middle" dominant-baseline="central" fill="#1a1a1a" font-weight="normal" >2011</text>
<text x="677.3" y="582.3" font-family="'Liberation Serif','Noto Serif CJK SC',serif" font-size="19" text-anchor="middle" dominant-baseline="central" fill="#1a1a1a" font-weight="normal" >2012</text>
<text x="736.7" y="584.0" font-family="'Liberation Serif','Noto Serif CJK SC',serif" font-size="19" text-anchor="middle" dominant-baseline="central" fill="#1a1a1a" font-weight="normal" >2013</text>
<text x="791.7" y="583.0" font-family="'Liberation Serif','Noto Serif CJK SC',serif" font-size="19" text-anchor="middle" dominant-baseline="central" fill="#1a1a1a" font-weight="normal" >2014</text>
<text x="850.0" y="583.0" font-family="'Liberation Serif','Noto Serif CJK SC',serif" font-size="19" text-anchor="middle" dominant-baseline="central" fill="#1a1a1a" font-weight="normal" >2015</text>
<text x="917.0" y="583.3" font-family="'Liberation Serif','Noto Serif CJK SC',serif" font-size="19" text-anchor="middle" dominant-baseline="central" fill="#1a1a1a" font-weight="normal" >2016</text>
<text x="264.6" y="619.3" font-family="'Liberation Serif','Noto Serif CJK SC',serif" font-size="19" text-anchor="middle" dominant-baseline="central" fill="#1a1a1a" font-weight="normal" >23</text>
<text x="316.0" y="620.0" font-family="'Liberation Serif','Noto Serif CJK SC',serif" font-size="19" text-anchor="middle" dominant-baseline="central" fill="#1a1a1a" font-weight="normal" >340</text>
<text x="370.0" y="620.0" font-family="'Liberation Serif','Noto Serif CJK SC',serif" font-size="19" text-anchor="middle" dominant-baseline="central" fill="#1a1a1a" font-weight="normal" >1204</text>
<text x="426.7" y="619.0" font-family="'Liberation Serif','Noto Serif CJK SC',serif" font-size="19" text-anchor="middle" dominant-baseline="central" fill="#1a1a1a" font-weight="normal" >1119</text>
<text x="481.0" y="620.5" font-family="'Liberation Serif','Noto Serif CJK SC',serif" font-size="19" text-anchor="middle" dominant-baseline="central" fill="#1a1a1a" font-weight="normal" >702</text>
<text x="531.7" y="620.0" font-family="'Liberation Serif','Noto Serif CJK SC',serif" font-size="19" text-anchor="middle" dominant-baseline="central" fill="#1a1a1a" font-weight="normal" >925</text>
<text x="605.7" y="619.0" font-family="'Liberation Serif','Noto Serif CJK SC',serif" font-size="19" text-anchor="middle" dominant-baseline="central" fill="#cc3a1e" font-weight="normal" >1254</text>
<text x="675.7" y="621.0" font-family="'Liberation Serif','Noto Serif CJK SC',serif" font-size="19" text-anchor="middle" dominant-baseline="central" fill="#3a6aaa" font-weight="normal" >866</text>
<text x="735.0" y="621.5" font-family="'Liberation Serif','Noto Serif CJK SC',serif" font-size="19" text-anchor="middle" dominant-baseline="central" fill="#3a6aaa" font-weight="normal" >682</text>
<text x="796.0" y="622.0" font-family="'Liberation Serif','Noto Serif CJK SC',serif" font-size="19" text-anchor="middle" dominant-baseline="central" fill="#3a6aaa" font-weight="normal" >725</text>
<text x="848.3" y="622.0" font-family="'Liberation Serif','Noto Serif CJK SC',serif" font-size="19" text-anchor="middle" dominant-baseline="central" fill="#3a6aaa" font-weight="normal" >623</text>
<text x="920.7" y="622.5" font-family="'Liberation Serif','Noto Serif CJK SC',serif" font-size="19" text-anchor="middle" dominant-baseline="central" fill="#3a6aaa" font-weight="normal" >731</text>
<g transform="translate(0,0)" fill="none" stroke="#222" stroke-width="1.2"><path d="M765.4,648.5 L774.7,648.5"/><path d="M765.4,648.5 C766,670 783,687 806,687 C826,687 840,675 843.4,661.4"/><path d="M774.7,648.5 C776,668 790,686 810,686.5 C832,687 848,676 852.8,661"/><path d="M843.4,661.4 L838.6,661 L848.8,650.7 L858.6,660.6 L852.8,661"/></g>
<g transform="translate(96.3,0)" fill="none" stroke="#222" stroke-width="1.2"><path d="M765.4,648.5 L774.7,648.5"/><path d="M765.4,648.5 C766,670 783,687 806,687 C826,687 840,675 843.4,661.4"/><path d="M774.7,648.5 C776,668 790,686 810,686.5 C832,687 848,676 852.8,661"/><path d="M843.4,661.4 L838.6,661 L848.8,650.7 L858.6,660.6 L852.8,661"/></g>
<text x="812.0" y="657.4" font-family="'Liberation Serif','Noto Serif CJK SC',serif" font-size="20.5" text-anchor="middle" dominant-baseline="central" fill="#d65a28" font-weight="normal" >−14%</text>
<text x="906.7" y="658.0" font-family="'Liberation Serif','Noto Serif CJK SC',serif" font-size="20.5" text-anchor="middle" dominant-baseline="central" fill="#4a7ab2" font-weight="normal" >+17%</text>
<rect x="943.2" y="690.3" width="11" height="11" fill="#d08898" rx="1"/>
<rect x="943.2" y="690.3" width="11" height="11" fill="url(#sqg)" rx="1"/>
<text x="961.5" y="697.0" font-family="'Liberation Sans', 'Noto Sans CJK SC', sans-serif" font-size="19.5" text-anchor="start" dominant-baseline="central" fill="#1a1a1a" font-weight="500" >其他</text>
<rect x="943.0" y="716.6" width="11" height="11" fill="#7e8ec6" rx="1"/>
<rect x="943.0" y="716.6" width="11" height="11" fill="url(#sqg)" rx="1"/>
<text x="961.3" y="723.3" font-family="'Liberation Sans', 'Noto Sans CJK SC', sans-serif" font-size="19.5" text-anchor="start" dominant-baseline="central" fill="#1a1a1a" font-weight="500" >沙特阿拉伯</text>
<rect x="942.8" y="742.9" width="11" height="11" fill="#f09040" rx="1"/>
<rect x="942.8" y="742.9" width="11" height="11" fill="url(#sqg)" rx="1"/>
<text x="961.1" y="749.6" font-family="'Liberation Sans', 'Noto Sans CJK SC', sans-serif" font-size="19.5" text-anchor="start" dominant-baseline="central" fill="#1a1a1a" font-weight="500" >阿拉伯联合酋长国</text>
<rect x="942.6" y="769.2" width="11" height="11" fill="#40b0c8" rx="1"/>
<rect x="942.6" y="769.2" width="11" height="11" fill="url(#sqg)" rx="1"/>
<text x="960.9" y="775.9" font-family="'Liberation Sans', 'Noto Sans CJK SC', sans-serif" font-size="19.5" text-anchor="start" dominant-baseline="central" fill="#1a1a1a" font-weight="500" >泰国</text>
<rect x="942.4" y="795.5" width="11" height="11" fill="#8a5aa8" rx="1"/>
<rect x="942.4" y="795.5" width="11" height="11" fill="url(#sqg)" rx="1"/>
<text x="960.7" y="802.2" font-family="'Liberation Sans', 'Noto Sans CJK SC', sans-serif" font-size="19.5" text-anchor="start" dominant-baseline="central" fill="#1a1a1a" font-weight="500" >乌克兰</text>
<rect x="942.2" y="821.8" width="11" height="11" fill="#98be42" rx="1"/>
<rect x="942.2" y="821.8" width="11" height="11" fill="url(#sqg)" rx="1"/>
<text x="960.5" y="828.5" font-family="'Liberation Sans', 'Noto Sans CJK SC', sans-serif" font-size="19.5" text-anchor="start" dominant-baseline="central" fill="#1a1a1a" font-weight="500" >美国</text>
<rect x="942.0" y="848.2" width="11" height="11" fill="#cc3048" rx="1"/>
<rect x="942.0" y="848.2" width="11" height="11" fill="url(#sqg)" rx="1"/>
<text x="960.3" y="854.8" font-family="'Liberation Sans', 'Noto Sans CJK SC', sans-serif" font-size="19.5" text-anchor="start" dominant-baseline="central" fill="#1a1a1a" font-weight="500" >加拿大</text>
<rect x="941.8" y="874.5" width="11" height="11" fill="#4a6ec2" rx="1"/>
<rect x="941.8" y="874.5" width="11" height="11" fill="url(#sqg)" rx="1"/>
<text x="960.1" y="881.1" font-family="'Liberation Sans', 'Noto Sans CJK SC', sans-serif" font-size="19.5" text-anchor="start" dominant-baseline="central" fill="#1a1a1a" font-weight="500" >日本</text>
<rect x="941.6" y="900.8" width="11" height="11" fill="#ee7e30" rx="1"/>
<rect x="941.6" y="900.8" width="11" height="11" fill="url(#sqg)" rx="1"/>
<text x="959.9" y="907.4" font-family="'Liberation Sans', 'Noto Sans CJK SC', sans-serif" font-size="19.5" text-anchor="start" dominant-baseline="central" fill="#1a1a1a" font-weight="500" >埃及</text>
<rect x="941.4" y="927.1" width="11" height="11" fill="#30a0b8" rx="1"/>
<rect x="941.4" y="927.1" width="11" height="11" fill="url(#sqg)" rx="1"/>
<text x="959.7" y="933.8" font-family="'Liberation Sans', 'Noto Sans CJK SC', sans-serif" font-size="19.5" text-anchor="start" dominant-baseline="central" fill="#1a1a1a" font-weight="500" >越南</text>
<rect x="941.2" y="953.4" width="11" height="11" fill="#7a4a9c" rx="1"/>
<rect x="941.2" y="953.4" width="11" height="11" fill="url(#sqg)" rx="1"/>
<text x="959.5" y="960.1" font-family="'Liberation Sans', 'Noto Sans CJK SC', sans-serif" font-size="19.5" text-anchor="start" dominant-baseline="central" fill="#1a1a1a" font-weight="500" >瑞典</text>
<rect x="941.0" y="979.7" width="11" height="11" fill="#72b844" rx="1"/>
<rect x="941.0" y="979.7" width="11" height="11" fill="url(#sqg)" rx="1"/>
<text x="959.3" y="986.4" font-family="'Liberation Sans', 'Noto Sans CJK SC', sans-serif" font-size="19.5" text-anchor="start" dominant-baseline="central" fill="#1a1a1a" font-weight="500" >俄国</text>
<rect x="940.8" y="1006.0" width="11" height="11" fill="#cc2e42" rx="1"/>
<rect x="940.8" y="1006.0" width="11" height="11" fill="url(#sqg)" rx="1"/>
<text x="959.1" y="1012.7" font-family="'Liberation Sans', 'Noto Sans CJK SC', sans-serif" font-size="19.5" text-anchor="start" dominant-baseline="central" fill="#1a1a1a" font-weight="500" >摩洛哥</text>
<rect x="940.6" y="1032.3" width="11" height="11" fill="#3a68c4" rx="1"/>
<rect x="940.6" y="1032.3" width="11" height="11" fill="url(#sqg)" rx="1"/>
<text x="958.9" y="1039.0" font-family="'Liberation Sans', 'Noto Sans CJK SC', sans-serif" font-size="19.5" text-anchor="start" dominant-baseline="central" fill="#1a1a1a" font-weight="500" >澳大利亚</text>
<rect x="940.4" y="1058.6" width="11" height="11" fill="#e8782c" rx="1"/>
<rect x="940.4" y="1058.6" width="11" height="11" fill="url(#sqg)" rx="1"/>
<text x="958.7" y="1065.3" font-family="'Liberation Sans', 'Noto Sans CJK SC', sans-serif" font-size="19.5" text-anchor="start" dominant-baseline="central" fill="#1a1a1a" font-weight="500" >马其顿</text>
<rect x="940.2" y="1084.9" width="11" height="11" fill="#3088a8" rx="1"/>
<rect x="940.2" y="1084.9" width="11" height="11" fill="url(#sqg)" rx="1"/>
<text x="958.5" y="1091.6" font-family="'Liberation Sans', 'Noto Sans CJK SC', sans-serif" font-size="19.5" text-anchor="start" dominant-baseline="central" fill="#1a1a1a" font-weight="500" >中国台湾</text>
<rect x="940.0" y="1111.3" width="11" height="11" fill="#5e3a80" rx="1"/>
<rect x="940.0" y="1111.3" width="11" height="11" fill="url(#sqg)" rx="1"/>
<text x="958.3" y="1117.9" font-family="'Liberation Sans', 'Noto Sans CJK SC', sans-serif" font-size="19.5" text-anchor="start" dominant-baseline="central" fill="#1a1a1a" font-weight="500" >土耳其</text>
<rect x="939.8" y="1137.6" width="11" height="11" fill="#5f8a3c" rx="1"/>
<rect x="939.8" y="1137.6" width="11" height="11" fill="url(#sqg)" rx="1"/>
<text x="958.1" y="1144.2" font-family="'Liberation Sans', 'Noto Sans CJK SC', sans-serif" font-size="19.5" text-anchor="start" dominant-baseline="central" fill="#1a1a1a" font-weight="500" >印度</text>
<rect x="939.6" y="1163.9" width="11" height="11" fill="#7c1a30" rx="1"/>
<rect x="939.6" y="1163.9" width="11" height="11" fill="url(#sqg)" rx="1"/>
<text x="957.9" y="1170.5" font-family="'Liberation Sans', 'Noto Sans CJK SC', sans-serif" font-size="19.5" text-anchor="start" dominant-baseline="central" fill="#1a1a1a" font-weight="500" >韩国</text>
<rect x="939.4" y="1190.2" width="11" height="11" fill="#4a447e" rx="1"/>
<rect x="939.4" y="1190.2" width="11" height="11" fill="url(#sqg)" rx="1"/>
<text x="957.7" y="1196.9" font-family="'Liberation Sans', 'Noto Sans CJK SC', sans-serif" font-size="19.5" text-anchor="start" dominant-baseline="central" fill="#1a1a1a" font-weight="500" >中国大陆</text>
<text x="426.8" y="1265.7" font-family="'Liberation Sans', 'Noto Sans CJK SC', sans-serif" font-size="23" text-anchor="start" dominant-baseline="central" fill="#1b8cc0" font-weight="500" >图</text>
<text x="456.2" y="1266.0" font-family="'Liberation Serif',serif" font-size="24" text-anchor="start" dominant-baseline="central" fill="#1b8cc0" font-weight="bold" >1-5</text>
<text x="516.0" y="1265.9" font-family="'Liberation Sans', 'Noto Sans CJK SC', sans-serif" font-size="23.5" text-anchor="start" dominant-baseline="central" fill="#1b8cc0" font-weight="500" textLength="248.5" lengthAdjust="spacing">欧洲彩涂钢板进口情况</text>
<polyline points="114.1,1770.0 138.6,1753.0 1018,1753.0" fill="none" stroke="#2e3a3a" stroke-width="1.3"/>
<line x1="114.1" y1="1770.0" x2="122.0" y2="1770.0" stroke="#222" stroke-width="1.2" />
<polyline points="114.1,1698.9 138.6,1681.9 1018,1681.9" fill="none" stroke="#2e3a3a" stroke-width="1.3"/>
<line x1="114.1" y1="1698.9" x2="122.0" y2="1698.9" stroke="#222" stroke-width="1.2" />
<polyline points="114.1,1627.9 138.6,1610.9 1018,1610.9" fill="none" stroke="#2e3a3a" stroke-width="1.3"/>
<line x1="114.1" y1="1627.9" x2="122.0" y2="1627.9" stroke="#222" stroke-width="1.2" />
<polyline points="114.1,1556.9 138.6,1539.9 1018,1539.9" fill="none" stroke="#2e3a3a" stroke-width="1.3"/>
<line x1="114.1" y1="1556.9" x2="122.0" y2="1556.9" stroke="#222" stroke-width="1.2" />
<polyline points="114.1,1485.8 138.6,1468.8 1018,1468.8" fill="none" stroke="#2e3a3a" stroke-width="1.3"/>
<line x1="114.1" y1="1485.8" x2="122.0" y2="1485.8" stroke="#222" stroke-width="1.2" />
<polyline points="114.1,1414.8 138.6,1397.8 1018,1397.8" fill="none" stroke="#2e3a3a" stroke-width="1.3"/>
<line x1="114.1" y1="1414.8" x2="122.0" y2="1414.8" stroke="#222" stroke-width="1.2" />
<polyline points="114.1,1343.8 138.6,1326.8 1018,1326.8" fill="none" stroke="#2e3a3a" stroke-width="1.3"/>
<line x1="114.1" y1="1343.8" x2="122.0" y2="1343.8" stroke="#222" stroke-width="1.2" />
<path d="M111.7,1841 L993.3,1842.7 L1018.5,1826.3 L135.5,1824.5 Z" fill="url(#floorg)" stroke="#555" stroke-width="0.8"/>
<line x1="111.7" y1="1841.3" x2="993.3" y2="1843.0" stroke="#333" stroke-width="1.6" />
<line x1="135.5" y1="1824.5" x2="111.7" y2="1841.0" stroke="#333" stroke-width="1.2" />
<line x1="993.3" y1="1842.7" x2="1018.5" y2="1826.3" stroke="#333" stroke-width="1.2" />
<line x1="163.4" y1="1841.3" x2="163.4" y2="1835.3" stroke="#333" stroke-width="1.1" />
<line x1="215.2" y1="1841.4" x2="215.2" y2="1835.4" stroke="#333" stroke-width="1.1" />
<line x1="267.0" y1="1841.5" x2="267.0" y2="1835.5" stroke="#333" stroke-width="1.1" />
<line x1="318.8" y1="1841.6" x2="318.8" y2="1835.6" stroke="#333" stroke-width="1.1" />
<line x1="370.6" y1="1841.7" x2="370.6" y2="1835.7" stroke="#333" stroke-width="1.1" />
<line x1="422.4" y1="1841.8" x2="422.4" y2="1835.8" stroke="#333" stroke-width="1.1" />
<line x1="474.2" y1="1841.9" x2="474.2" y2="1835.9" stroke="#333" stroke-width="1.1" />
<line x1="526.0" y1="1842.0" x2="526.0" y2="1836.0" stroke="#333" stroke-width="1.1" />
<line x1="577.8" y1="1842.1" x2="577.8" y2="1836.1" stroke="#333" stroke-width="1.1" />
<line x1="629.6" y1="1842.2" x2="629.6" y2="1836.2" stroke="#333" stroke-width="1.1" />
<line x1="681.4" y1="1842.3" x2="681.4" y2="1836.3" stroke="#333" stroke-width="1.1" />
<line x1="733.2" y1="1842.4" x2="733.2" y2="1836.4" stroke="#333" stroke-width="1.1" />
<line x1="785.0" y1="1842.5" x2="785.0" y2="1836.5" stroke="#333" stroke-width="1.1" />
<line x1="836.8" y1="1842.6" x2="836.8" y2="1836.6" stroke="#333" stroke-width="1.1" />
<line x1="888.6" y1="1842.7" x2="888.6" y2="1836.7" stroke="#333" stroke-width="1.1" />
<line x1="940.4" y1="1842.8" x2="940.4" y2="1836.8" stroke="#333" stroke-width="1.1" />
<line x1="992.2" y1="1842.9" x2="992.2" y2="1836.9" stroke="#333" stroke-width="1.1" />
<line x1="114.1" y1="1343.0" x2="112.3" y2="1841.0" stroke="#222" stroke-width="1.3" />
<text x="108.5" y="1840.2" font-family="'Liberation Serif','Noto Serif CJK SC',serif" font-size="19.5" text-anchor="end" dominant-baseline="central" fill="#1a1a1a" font-weight="normal" >0</text>
<text x="108.5" y="1769.2" font-family="'Liberation Serif','Noto Serif CJK SC',serif" font-size="19.5" text-anchor="end" dominant-baseline="central" fill="#1a1a1a" font-weight="normal" >100</text>
<text x="108.5" y="1698.1" font-family="'Liberation Serif','Noto Serif CJK SC',serif" font-size="19.5" text-anchor="end" dominant-baseline="central" fill="#1a1a1a" font-weight="normal" >200</text>
<text x="108.5" y="1627.1" font-family="'Liberation Serif','Noto Serif CJK SC',serif" font-size="19.5" text-anchor="end" dominant-baseline="central" fill="#1a1a1a" font-weight="normal" >300</text>
<text x="108.5" y="1556.1" font-family="'Liberation Serif','Noto Serif CJK SC',serif" font-size="19.5" text-anchor="end" dominant-baseline="central" fill="#1a1a1a" font-weight="normal" >400</text>
<text x="108.5" y="1485.0" font-family="'Liberation Serif','Noto Serif CJK SC',serif" font-size="19.5" text-anchor="end" dominant-baseline="central" fill="#1a1a1a" font-weight="normal" >500</text>
<text x="108.5" y="1414.0" font-family="'Liberation Serif','Noto Serif CJK SC',serif" font-size="19.5" text-anchor="end" dominant-baseline="central" fill="#1a1a1a" font-weight="normal" >600</text>
<text x="108.5" y="1343.0" font-family="'Liberation Serif','Noto Serif CJK SC',serif" font-size="19.5" text-anchor="end" dominant-baseline="central" fill="#1a1a1a" font-weight="normal" >700</text>
<text x="0" y="0" transform="translate(50.4,1590) rotate(-90)" font-family="'Liberation Sans', 'Noto Sans CJK SC', sans-serif" font-size="20.5" font-weight="500" text-anchor="middle" dominant-baseline="central" fill="#1a1a1a">千吨</text>
<path d="M135.1,1762.7 A14.5,4.5 0 0 0 164.1,1762.7 L164.1,1831.2 A14.5,4.5 0 0 1 135.1,1831.2 Z" fill="#4c0c3c"/>
<path d="M135.1,1710.0 A14.5,4.5 0 0 0 164.1,1710.0 L164.1,1762.7 A14.5,4.5 0 0 1 135.1,1762.7 Z" fill="#e6e624"/>
<path d="M135.1,1655.0 A14.5,4.5 0 0 0 164.1,1655.0 L164.1,1710.0 A14.5,4.5 0 0 1 135.1,1710.0 Z" fill="#e8344e"/>
<path d="M135.1,1623.3 A14.5,4.5 0 0 0 164.1,1623.3 L164.1,1655.0 A14.5,4.5 0 0 1 135.1,1655.0 Z" fill="#f2aa22"/>
<path d="M135.1,1619.5 A14.5,4.5 0 0 0 164.1,1619.5 L164.1,1623.3 A14.5,4.5 0 0 1 135.1,1623.3 Z" fill="#28b2da"/>
<path d="M135.1,1595.2 A14.5,4.5 0 0 0 164.1,1595.2 L164.1,1619.5 A14.5,4.5 0 0 1 135.1,1619.5 Z" fill="#e8642e"/>
<path d="M135.1,1595.2 L164.1,1595.2 L164.1,1831.2 A14.5,4.5 0 0 1 135.1,1831.2 Z" fill="url(#cyl)"/>
<ellipse cx="149.6" cy="1595.2" rx="14.5" ry="4.5" fill="#e8642e"/>
<ellipse cx="149.6" cy="1595.2" rx="14.5" ry="4.5" fill="#000" fill-opacity="0.12"/>
<path d="M186.9,1774.0 A14.5,4.5 0 0 0 215.9,1774.0 L215.9,1831.2 A14.5,4.5 0 0 1 186.9,1831.2 Z" fill="#4c0c3c"/>
<path d="M186.9,1713.3 A14.5,4.5 0 0 0 215.9,1713.3 L215.9,1774.0 A14.5,4.5 0 0 1 186.9,1774.0 Z" fill="#e6e624"/>
<path d="M186.9,1671.7 A14.5,4.5 0 0 0 215.9,1671.7 L215.9,1713.3 A14.5,4.5 0 0 1 186.9,1713.3 Z" fill="#e8344e"/>
<path d="M186.9,1639.3 A14.5,4.5 0 0 0 215.9,1639.3 L215.9,1671.7 A14.5,4.5 0 0 1 186.9,1671.7 Z" fill="#f2aa22"/>
<path d="M186.9,1636.0 A14.5,4.5 0 0 0 215.9,1636.0 L215.9,1639.3 A14.5,4.5 0 0 1 186.9,1639.3 Z" fill="#28b2da"/>
<path d="M186.9,1614.5 A14.5,4.5 0 0 0 215.9,1614.5 L215.9,1636.0 A14.5,4.5 0 0 1 186.9,1636.0 Z" fill="#e8642e"/>
<path d="M186.9,1614.5 L215.9,1614.5 L215.9,1831.2 A14.5,4.5 0 0 1 186.9,1831.2 Z" fill="url(#cyl)"/>
<ellipse cx="201.4" cy="1614.5" rx="14.5" ry="4.5" fill="#e8642e"/>
<ellipse cx="201.4" cy="1614.5" rx="14.5" ry="4.5" fill="#000" fill-opacity="0.12"/>
<path d="M238.7,1756.0 A14.5,4.5 0 0 0 267.7,1756.0 L267.7,1831.2 A14.5,4.5 0 0 1 238.7,1831.2 Z" fill="#4c0c3c"/>
<path d="M238.7,1687.3 A14.5,4.5 0 0 0 267.7,1687.3 L267.7,1756.0 A14.5,4.5 0 0 1 238.7,1756.0 Z" fill="#e6e624"/>
<path d="M238.7,1625.0 A14.5,4.5 0 0 0 267.7,1625.0 L267.7,1687.3 A14.5,4.5 0 0 1 238.7,1687.3 Z" fill="#e8344e"/>
<path d="M238.7,1606.0 A14.5,4.5 0 0 0 267.7,1606.0 L267.7,1625.0 A14.5,4.5 0 0 1 238.7,1625.0 Z" fill="#f2aa22"/>
<path d="M238.7,1597.8 A14.5,4.5 0 0 0 267.7,1597.8 L267.7,1606.0 A14.5,4.5 0 0 1 238.7,1606.0 Z" fill="#e8642e"/>
<path d="M238.7,1597.8 L267.7,1597.8 L267.7,1831.2 A14.5,4.5 0 0 1 238.7,1831.2 Z" fill="url(#cyl)"/>
<ellipse cx="253.2" cy="1597.8" rx="14.5" ry="4.5" fill="#e8642e"/>
<ellipse cx="253.2" cy="1597.8" rx="14.5" ry="4.5" fill="#000" fill-opacity="0.12"/>
<path d="M290.5,1741.7 A14.5,4.5 0 0 0 319.5,1741.7 L319.5,1831.2 A14.5,4.5 0 0 1 290.5,1831.2 Z" fill="#4c0c3c"/>
<path d="M290.5,1696.7 A14.5,4.5 0 0 0 319.5,1696.7 L319.5,1741.7 A14.5,4.5 0 0 1 290.5,1741.7 Z" fill="#e6e624"/>
<path d="M290.5,1642.7 A14.5,4.5 0 0 0 319.5,1642.7 L319.5,1696.7 A14.5,4.5 0 0 1 290.5,1696.7 Z" fill="#e8344e"/>
<path d="M290.5,1618.0 A14.5,4.5 0 0 0 319.5,1618.0 L319.5,1642.7 A14.5,4.5 0 0 1 290.5,1642.7 Z" fill="#f2aa22"/>
<path d="M290.5,1613.8 A14.5,4.5 0 0 0 319.5,1613.8 L319.5,1618.0 A14.5,4.5 0 0 1 290.5,1618.0 Z" fill="#e8642e"/>
<path d="M290.5,1613.8 L319.5,1613.8 L319.5,1831.2 A14.5,4.5 0 0 1 290.5,1831.2 Z" fill="url(#cyl)"/>
<ellipse cx="305.0" cy="1613.8" rx="14.5" ry="4.5" fill="#e8642e"/>
<ellipse cx="305.0" cy="1613.8" rx="14.5" ry="4.5" fill="#000" fill-opacity="0.12"/>
<path d="M342.3,1733.3 A14.5,4.5 0 0 0 371.3,1733.3 L371.3,1831.2 A14.5,4.5 0 0 1 342.3,1831.2 Z" fill="#4c0c3c"/>
<path d="M342.3,1729.0 A14.5,4.5 0 0 0 371.3,1729.0 L371.3,1733.3 A14.5,4.5 0 0 1 342.3,1733.3 Z" fill="#d8662c"/>
<path d="M342.3,1650.7 A14.5,4.5 0 0 0 371.3,1650.7 L371.3,1729.0 A14.5,4.5 0 0 1 342.3,1729.0 Z" fill="#e6e624"/>
<path d="M342.3,1580.0 A14.5,4.5 0 0 0 371.3,1580.0 L371.3,1650.7 A14.5,4.5 0 0 1 342.3,1650.7 Z" fill="#e8344e"/>
<path d="M342.3,1466.0 A14.5,4.5 0 0 0 371.3,1466.0 L371.3,1580.0 A14.5,4.5 0 0 1 342.3,1580.0 Z" fill="#f2aa22"/>
<path d="M342.3,1451.2 A14.5,4.5 0 0 0 371.3,1451.2 L371.3,1466.0 A14.5,4.5 0 0 1 342.3,1466.0 Z" fill="#e8642e"/>
<path d="M342.3,1451.2 L371.3,1451.2 L371.3,1831.2 A14.5,4.5 0 0 1 342.3,1831.2 Z" fill="url(#cyl)"/>
<ellipse cx="356.8" cy="1451.2" rx="14.5" ry="4.5" fill="#e8642e"/>
<ellipse cx="356.8" cy="1451.2" rx="14.5" ry="4.5" fill="#000" fill-opacity="0.12"/>
<path d="M394.1,1751.7 A14.5,4.5 0 0 0 423.1,1751.7 L423.1,1831.2 A14.5,4.5 0 0 1 394.1,1831.2 Z" fill="#4c0c3c"/>
<path d="M394.1,1741.7 A14.5,4.5 0 0 0 423.1,1741.7 L423.1,1751.7 A14.5,4.5 0 0 1 394.1,1751.7 Z" fill="#30a034"/>
<path d="M394.1,1736.7 A14.5,4.5 0 0 0 423.1,1736.7 L423.1,1741.7 A14.5,4.5 0 0 1 394.1,1741.7 Z" fill="#d8662c"/>
<path d="M394.1,1615.0 A14.5,4.5 0 0 0 423.1,1615.0 L423.1,1736.7 A14.5,4.5 0 0 1 394.1,1736.7 Z" fill="#e6e624"/>
<path d="M394.1,1545.0 A14.5,4.5 0 0 0 423.1,1545.0 L423.1,1615.0 A14.5,4.5 0 0 1 394.1,1615.0 Z" fill="#e8344e"/>
<path d="M394.1,1408.3 A14.5,4.5 0 0 0 423.1,1408.3 L423.1,1545.0 A14.5,4.5 0 0 1 394.1,1545.0 Z" fill="#f2aa22"/>
<path d="M394.1,1391.2 A14.5,4.5 0 0 0 423.1,1391.2 L423.1,1408.3 A14.5,4.5 0 0 1 394.1,1408.3 Z" fill="#e8642e"/>
<path d="M394.1,1391.2 L423.1,1391.2 L423.1,1831.2 A14.5,4.5 0 0 1 394.1,1831.2 Z" fill="url(#cyl)"/>
<ellipse cx="408.6" cy="1391.2" rx="14.5" ry="4.5" fill="#e8642e"/>
<ellipse cx="408.6" cy="1391.2" rx="14.5" ry="4.5" fill="#000" fill-opacity="0.12"/>
<path d="M445.9,1766.7 A14.5,4.5 0 0 0 474.9,1766.7 L474.9,1831.2 A14.5,4.5 0 0 1 445.9,1831.2 Z" fill="#4c0c3c"/>
<path d="M445.9,1736.7 A14.5,4.5 0 0 0 474.9,1736.7 L474.9,1766.7 A14.5,4.5 0 0 1 445.9,1766.7 Z" fill="#30a034"/>
<path d="M445.9,1732.0 A14.5,4.5 0 0 0 474.9,1732.0 L474.9,1736.7 A14.5,4.5 0 0 1 445.9,1736.7 Z" fill="#7a3a9c"/>
<path d="M445.9,1728.3 A14.5,4.5 0 0 0 474.9,1728.3 L474.9,1732.0 A14.5,4.5 0 0 1 445.9,1732.0 Z" fill="#3a8cb4"/>
<path d="M445.9,1723.3 A14.5,4.5 0 0 0 474.9,1723.3 L474.9,1728.3 A14.5,4.5 0 0 1 445.9,1728.3 Z" fill="#d8662c"/>
<path d="M445.9,1601.7 A14.5,4.5 0 0 0 474.9,1601.7 L474.9,1723.3 A14.5,4.5 0 0 1 445.9,1723.3 Z" fill="#e6e624"/>
<path d="M445.9,1563.3 A14.5,4.5 0 0 0 474.9,1563.3 L474.9,1601.7 A14.5,4.5 0 0 1 445.9,1601.7 Z" fill="#e8344e"/>
<path d="M445.9,1392.7 A14.5,4.5 0 0 0 474.9,1392.7 L474.9,1563.3 A14.5,4.5 0 0 1 445.9,1563.3 Z" fill="#f2aa22"/>
<path d="M445.9,1381.8 A14.5,4.5 0 0 0 474.9,1381.8 L474.9,1392.7 A14.5,4.5 0 0 1 445.9,1392.7 Z" fill="#e8642e"/>
<path d="M445.9,1381.8 L474.9,1381.8 L474.9,1831.2 A14.5,4.5 0 0 1 445.9,1831.2 Z" fill="url(#cyl)"/>
<ellipse cx="460.4" cy="1381.8" rx="14.5" ry="4.5" fill="#e8642e"/>
<ellipse cx="460.4" cy="1381.8" rx="14.5" ry="4.5" fill="#000" fill-opacity="0.12"/>
<path d="M497.7,1808.3 A14.5,4.5 0 0 0 526.7,1808.3 L526.7,1831.2 A14.5,4.5 0 0 1 497.7,1831.2 Z" fill="#4c0c3c"/>
<path d="M497.7,1763.3 A14.5,4.5 0 0 0 526.7,1763.3 L526.7,1808.3 A14.5,4.5 0 0 1 497.7,1808.3 Z" fill="#30a034"/>
<path d="M497.7,1751.7 A14.5,4.5 0 0 0 526.7,1751.7 L526.7,1763.3 A14.5,4.5 0 0 1 497.7,1763.3 Z" fill="#7a3a9c"/>
<path d="M497.7,1743.3 A14.5,4.5 0 0 0 526.7,1743.3 L526.7,1751.7 A14.5,4.5 0 0 1 497.7,1751.7 Z" fill="#3a8cb4"/>
<path d="M497.7,1740.0 A14.5,4.5 0 0 0 526.7,1740.0 L526.7,1743.3 A14.5,4.5 0 0 1 497.7,1743.3 Z" fill="#d8662c"/>
<path d="M497.7,1671.7 A14.5,4.5 0 0 0 526.7,1671.7 L526.7,1740.0 A14.5,4.5 0 0 1 497.7,1740.0 Z" fill="#e6e624"/>
<path d="M497.7,1640.0 A14.5,4.5 0 0 0 526.7,1640.0 L526.7,1671.7 A14.5,4.5 0 0 1 497.7,1671.7 Z" fill="#e8344e"/>
<path d="M497.7,1493.3 A14.5,4.5 0 0 0 526.7,1493.3 L526.7,1640.0 A14.5,4.5 0 0 1 497.7,1640.0 Z" fill="#f2aa22"/>
<path d="M497.7,1490.0 A14.5,4.5 0 0 0 526.7,1490.0 L526.7,1493.3 A14.5,4.5 0 0 1 497.7,1493.3 Z" fill="#8a3aa8"/>
<path d="M497.7,1486.2 A14.5,4.5 0 0 0 526.7,1486.2 L526.7,1490.0 A14.5,4.5 0 0 1 497.7,1490.0 Z" fill="#e8642e"/>
<path d="M497.7,1486.2 L526.7,1486.2 L526.7,1831.2 A14.5,4.5 0 0 1 497.7,1831.2 Z" fill="url(#cyl)"/>
<ellipse cx="512.2" cy="1486.2" rx="14.5" ry="4.5" fill="#e8642e"/>
<ellipse cx="512.2" cy="1486.2" rx="14.5" ry="4.5" fill="#000" fill-opacity="0.12"/>
<path d="M549.5,1813.3 A14.5,4.5 0 0 0 578.5,1813.3 L578.5,1831.2 A14.5,4.5 0 0 1 549.5,1831.2 Z" fill="#4c0c3c"/>
<path d="M549.5,1781.7 A14.5,4.5 0 0 0 578.5,1781.7 L578.5,1813.3 A14.5,4.5 0 0 1 549.5,1813.3 Z" fill="#30a034"/>
<path d="M549.5,1770.0 A14.5,4.5 0 0 0 578.5,1770.0 L578.5,1781.7 A14.5,4.5 0 0 1 549.5,1781.7 Z" fill="#7a3a9c"/>
<path d="M549.5,1765.0 A14.5,4.5 0 0 0 578.5,1765.0 L578.5,1770.0 A14.5,4.5 0 0 1 549.5,1770.0 Z" fill="#3a8cb4"/>
<path d="M549.5,1760.0 A14.5,4.5 0 0 0 578.5,1760.0 L578.5,1765.0 A14.5,4.5 0 0 1 549.5,1765.0 Z" fill="#d8662c"/>
<path d="M549.5,1703.3 A14.5,4.5 0 0 0 578.5,1703.3 L578.5,1760.0 A14.5,4.5 0 0 1 549.5,1760.0 Z" fill="#e6e624"/>
<path d="M549.5,1678.3 A14.5,4.5 0 0 0 578.5,1678.3 L578.5,1703.3 A14.5,4.5 0 0 1 549.5,1703.3 Z" fill="#e8344e"/>
<path d="M549.5,1562.0 A14.5,4.5 0 0 0 578.5,1562.0 L578.5,1678.3 A14.5,4.5 0 0 1 549.5,1678.3 Z" fill="#f2aa22"/>
<path d="M549.5,1558.0 A14.5,4.5 0 0 0 578.5,1558.0 L578.5,1562.0 A14.5,4.5 0 0 1 549.5,1562.0 Z" fill="#8a3aa8"/>
<path d="M549.5,1552.3 A14.5,4.5 0 0 0 578.5,1552.3 L578.5,1558.0 A14.5,4.5 0 0 1 549.5,1558.0 Z" fill="#e8642e"/>
<path d="M549.5,1552.3 L578.5,1552.3 L578.5,1831.2 A14.5,4.5 0 0 1 549.5,1831.2 Z" fill="url(#cyl)"/>
<ellipse cx="564.0" cy="1552.3" rx="14.5" ry="4.5" fill="#e8642e"/>
<ellipse cx="564.0" cy="1552.3" rx="14.5" ry="4.5" fill="#000" fill-opacity="0.12"/>
<path d="M601.3,1816.7 A14.5,4.5 0 0 0 630.3,1816.7 L630.3,1831.2 A14.5,4.5 0 0 1 601.3,1831.2 Z" fill="#4c0c3c"/>
<path d="M601.3,1796.7 A14.5,4.5 0 0 0 630.3,1796.7 L630.3,1816.7 A14.5,4.5 0 0 1 601.3,1816.7 Z" fill="#30a034"/>
<path d="M601.3,1785.0 A14.5,4.5 0 0 0 630.3,1785.0 L630.3,1796.7 A14.5,4.5 0 0 1 601.3,1796.7 Z" fill="#7a3a9c"/>
<path d="M601.3,1778.3 A14.5,4.5 0 0 0 630.3,1778.3 L630.3,1785.0 A14.5,4.5 0 0 1 601.3,1785.0 Z" fill="#3a8cb4"/>
<path d="M601.3,1773.3 A14.5,4.5 0 0 0 630.3,1773.3 L630.3,1778.3 A14.5,4.5 0 0 1 601.3,1778.3 Z" fill="#d8662c"/>
<path d="M601.3,1736.7 A14.5,4.5 0 0 0 630.3,1736.7 L630.3,1773.3 A14.5,4.5 0 0 1 601.3,1773.3 Z" fill="#e6e624"/>
<path d="M601.3,1726.7 A14.5,4.5 0 0 0 630.3,1726.7 L630.3,1736.7 A14.5,4.5 0 0 1 601.3,1736.7 Z" fill="#e8344e"/>
<path d="M601.3,1640.4 A14.5,4.5 0 0 0 630.3,1640.4 L630.3,1726.7 A14.5,4.5 0 0 1 601.3,1726.7 Z" fill="#f2aa22"/>
<path d="M601.3,1637.0 A14.5,4.5 0 0 0 630.3,1637.0 L630.3,1640.4 A14.5,4.5 0 0 1 601.3,1640.4 Z" fill="#8a3aa8"/>
<path d="M601.3,1634.5 A14.5,4.5 0 0 0 630.3,1634.5 L630.3,1637.0 A14.5,4.5 0 0 1 601.3,1637.0 Z" fill="#e8642e"/>
<path d="M601.3,1634.5 L630.3,1634.5 L630.3,1831.2 A14.5,4.5 0 0 1 601.3,1831.2 Z" fill="url(#cyl)"/>
<ellipse cx="615.8" cy="1634.5" rx="14.5" ry="4.5" fill="#e8642e"/>
<ellipse cx="615.8" cy="1634.5" rx="14.5" ry="4.5" fill="#000" fill-opacity="0.12"/>
<path d="M653.1,1813.3 A14.5,4.5 0 0 0 682.1,1813.3 L682.1,1831.2 A14.5,4.5 0 0 1 653.1,1831.2 Z" fill="#4c0c3c"/>
<path d="M653.1,1773.3 A14.5,4.5 0 0 0 682.1,1773.3 L682.1,1813.3 A14.5,4.5 0 0 1 653.1,1813.3 Z" fill="#30a034"/>
<path d="M653.1,1763.3 A14.5,4.5 0 0 0 682.1,1763.3 L682.1,1773.3 A14.5,4.5 0 0 1 653.1,1773.3 Z" fill="#7a3a9c"/>
<path d="M653.1,1757.0 A14.5,4.5 0 0 0 682.1,1757.0 L682.1,1763.3 A14.5,4.5 0 0 1 653.1,1763.3 Z" fill="#3a8cb4"/>
<path d="M653.1,1753.3 A14.5,4.5 0 0 0 682.1,1753.3 L682.1,1757.0 A14.5,4.5 0 0 1 653.1,1757.0 Z" fill="#d8662c"/>
<path d="M653.1,1733.3 A14.5,4.5 0 0 0 682.1,1733.3 L682.1,1753.3 A14.5,4.5 0 0 1 653.1,1753.3 Z" fill="#e6e624"/>
<path d="M653.1,1720.0 A14.5,4.5 0 0 0 682.1,1720.0 L682.1,1733.3 A14.5,4.5 0 0 1 653.1,1733.3 Z" fill="#e8344e"/>
<path d="M653.1,1621.0 A14.5,4.5 0 0 0 682.1,1621.0 L682.1,1720.0 A14.5,4.5 0 0 1 653.1,1720.0 Z" fill="#f2aa22"/>
<path d="M653.1,1617.0 A14.5,4.5 0 0 0 682.1,1617.0 L682.1,1621.0 A14.5,4.5 0 0 1 653.1,1621.0 Z" fill="#8a3aa8"/>
<path d="M653.1,1613.5 A14.5,4.5 0 0 0 682.1,1613.5 L682.1,1617.0 A14.5,4.5 0 0 1 653.1,1617.0 Z" fill="#e8642e"/>
<path d="M653.1,1613.5 L682.1,1613.5 L682.1,1831.2 A14.5,4.5 0 0 1 653.1,1831.2 Z" fill="url(#cyl)"/>
<ellipse cx="667.6" cy="1613.5" rx="14.5" ry="4.5" fill="#e8642e"/>
<ellipse cx="667.6" cy="1613.5" rx="14.5" ry="4.5" fill="#000" fill-opacity="0.12"/>
<path d="M704.9,1818.3 A14.5,4.5 0 0 0 733.9,1818.3 L733.9,1831.2 A14.5,4.5 0 0 1 704.9,1831.2 Z" fill="#4c0c3c"/>
<path d="M704.9,1776.7 A14.5,4.5 0 0 0 733.9,1776.7 L733.9,1818.3 A14.5,4.5 0 0 1 704.9,1818.3 Z" fill="#30a034"/>
<path d="M704.9,1768.0 A14.5,4.5 0 0 0 733.9,1768.0 L733.9,1776.7 A14.5,4.5 0 0 1 704.9,1776.7 Z" fill="#7a3a9c"/>
<path d="M704.9,1760.0 A14.5,4.5 0 0 0 733.9,1760.0 L733.9,1768.0 A14.5,4.5 0 0 1 704.9,1768.0 Z" fill="#3a8cb4"/>
<path d="M704.9,1755.0 A14.5,4.5 0 0 0 733.9,1755.0 L733.9,1760.0 A14.5,4.5 0 0 1 704.9,1760.0 Z" fill="#d8662c"/>
<path d="M704.9,1735.0 A14.5,4.5 0 0 0 733.9,1735.0 L733.9,1755.0 A14.5,4.5 0 0 1 704.9,1755.0 Z" fill="#e6e624"/>
<path d="M704.9,1723.3 A14.5,4.5 0 0 0 733.9,1723.3 L733.9,1735.0 A14.5,4.5 0 0 1 704.9,1735.0 Z" fill="#e8344e"/>
<path d="M704.9,1612.5 A14.5,4.5 0 0 0 733.9,1612.5 L733.9,1723.3 A14.5,4.5 0 0 1 704.9,1723.3 Z" fill="#f2aa22"/>
<path d="M704.9,1603.0 A14.5,4.5 0 0 0 733.9,1603.0 L733.9,1612.5 A14.5,4.5 0 0 1 704.9,1612.5 Z" fill="#8a3aa8"/>
<path d="M704.9,1599.0 A14.5,4.5 0 0 0 733.9,1599.0 L733.9,1603.0 A14.5,4.5 0 0 1 704.9,1603.0 Z" fill="#e8642e"/>
<path d="M704.9,1599.0 L733.9,1599.0 L733.9,1831.2 A14.5,4.5 0 0 1 704.9,1831.2 Z" fill="url(#cyl)"/>
<ellipse cx="719.4" cy="1599.0" rx="14.5" ry="4.5" fill="#e8642e"/>
<ellipse cx="719.4" cy="1599.0" rx="14.5" ry="4.5" fill="#000" fill-opacity="0.12"/>
<path d="M756.7,1821.7 A14.5,4.5 0 0 0 785.7,1821.7 L785.7,1831.2 A14.5,4.5 0 0 1 756.7,1831.2 Z" fill="#4c0c3c"/>
<path d="M756.7,1755.0 A14.5,4.5 0 0 0 785.7,1755.0 L785.7,1821.7 A14.5,4.5 0 0 1 756.7,1821.7 Z" fill="#30a034"/>
<path d="M756.7,1746.7 A14.5,4.5 0 0 0 785.7,1746.7 L785.7,1755.0 A14.5,4.5 0 0 1 756.7,1755.0 Z" fill="#7a3a9c"/>
<path d="M756.7,1730.0 A14.5,4.5 0 0 0 785.7,1730.0 L785.7,1746.7 A14.5,4.5 0 0 1 756.7,1746.7 Z" fill="#3a8cb4"/>
<path d="M756.7,1726.7 A14.5,4.5 0 0 0 785.7,1726.7 L785.7,1730.0 A14.5,4.5 0 0 1 756.7,1730.0 Z" fill="#d8662c"/>
<path d="M756.7,1703.3 A14.5,4.5 0 0 0 785.7,1703.3 L785.7,1726.7 A14.5,4.5 0 0 1 756.7,1726.7 Z" fill="#e6e624"/>
<path d="M756.7,1693.3 A14.5,4.5 0 0 0 785.7,1693.3 L785.7,1703.3 A14.5,4.5 0 0 1 756.7,1703.3 Z" fill="#e8344e"/>
<path d="M756.7,1556.7 A14.5,4.5 0 0 0 785.7,1556.7 L785.7,1693.3 A14.5,4.5 0 0 1 756.7,1693.3 Z" fill="#f2aa22"/>
<path d="M756.7,1550.0 A14.5,4.5 0 0 0 785.7,1550.0 L785.7,1556.7 A14.5,4.5 0 0 1 756.7,1556.7 Z" fill="#8a3aa8"/>
<path d="M756.7,1548.0 A14.5,4.5 0 0 0 785.7,1548.0 L785.7,1550.0 A14.5,4.5 0 0 1 756.7,1550.0 Z" fill="#e8642e"/>
<path d="M756.7,1548.0 L785.7,1548.0 L785.7,1831.2 A14.5,4.5 0 0 1 756.7,1831.2 Z" fill="url(#cyl)"/>
<ellipse cx="771.2" cy="1548.0" rx="14.5" ry="4.5" fill="#e8642e"/>
<ellipse cx="771.2" cy="1548.0" rx="14.5" ry="4.5" fill="#000" fill-opacity="0.12"/>
<path d="M808.5,1821.7 A14.5,4.5 0 0 0 837.5,1821.7 L837.5,1831.2 A14.5,4.5 0 0 1 808.5,1831.2 Z" fill="#4c0c3c"/>
<path d="M808.5,1755.0 A14.5,4.5 0 0 0 837.5,1755.0 L837.5,1821.7 A14.5,4.5 0 0 1 808.5,1821.7 Z" fill="#30a034"/>
<path d="M808.5,1748.0 A14.5,4.5 0 0 0 837.5,1748.0 L837.5,1755.0 A14.5,4.5 0 0 1 808.5,1755.0 Z" fill="#7a3a9c"/>
<path d="M808.5,1738.0 A14.5,4.5 0 0 0 837.5,1738.0 L837.5,1748.0 A14.5,4.5 0 0 1 808.5,1748.0 Z" fill="#3a8cb4"/>
<path d="M808.5,1735.0 A14.5,4.5 0 0 0 837.5,1735.0 L837.5,1738.0 A14.5,4.5 0 0 1 808.5,1738.0 Z" fill="#d8662c"/>
<path d="M808.5,1703.0 A14.5,4.5 0 0 0 837.5,1703.0 L837.5,1735.0 A14.5,4.5 0 0 1 808.5,1735.0 Z" fill="#e6e624"/>
<path d="M808.5,1693.0 A14.5,4.5 0 0 0 837.5,1693.0 L837.5,1703.0 A14.5,4.5 0 0 1 808.5,1703.0 Z" fill="#e8344e"/>
<path d="M808.5,1595.8 A14.5,4.5 0 0 0 837.5,1595.8 L837.5,1693.0 A14.5,4.5 0 0 1 808.5,1693.0 Z" fill="#f2aa22"/>
<path d="M808.5,1590.5 A14.5,4.5 0 0 0 837.5,1590.5 L837.5,1595.8 A14.5,4.5 0 0 1 808.5,1595.8 Z" fill="#8a3aa8"/>
<path d="M808.5,1588.5 A14.5,4.5 0 0 0 837.5,1588.5 L837.5,1590.5 A14.5,4.5 0 0 1 808.5,1590.5 Z" fill="#e8642e"/>
<path d="M808.5,1588.5 L837.5,1588.5 L837.5,1831.2 A14.5,4.5 0 0 1 808.5,1831.2 Z" fill="url(#cyl)"/>
<ellipse cx="823.0" cy="1588.5" rx="14.5" ry="4.5" fill="#e8642e"/>
<ellipse cx="823.0" cy="1588.5" rx="14.5" ry="4.5" fill="#000" fill-opacity="0.12"/>
<path d="M860.3,1820.7 A14.5,4.5 0 0 0 889.3,1820.7 L889.3,1831.2 A14.5,4.5 0 0 1 860.3,1831.2 Z" fill="#4c0c3c"/>
<path d="M860.3,1729.3 A14.5,4.5 0 0 0 889.3,1729.3 L889.3,1820.7 A14.5,4.5 0 0 1 860.3,1820.7 Z" fill="#30a034"/>
<path d="M860.3,1720.0 A14.5,4.5 0 0 0 889.3,1720.0 L889.3,1729.3 A14.5,4.5 0 0 1 860.3,1729.3 Z" fill="#7a3a9c"/>
<path d="M860.3,1697.0 A14.5,4.5 0 0 0 889.3,1697.0 L889.3,1720.0 A14.5,4.5 0 0 1 860.3,1720.0 Z" fill="#3a8cb4"/>
<path d="M860.3,1691.7 A14.5,4.5 0 0 0 889.3,1691.7 L889.3,1697.0 A14.5,4.5 0 0 1 860.3,1697.0 Z" fill="#d8662c"/>
<path d="M860.3,1638.7 A14.5,4.5 0 0 0 889.3,1638.7 L889.3,1691.7 A14.5,4.5 0 0 1 860.3,1691.7 Z" fill="#e6e624"/>
<path d="M860.3,1626.5 A14.5,4.5 0 0 0 889.3,1626.5 L889.3,1638.7 A14.5,4.5 0 0 1 860.3,1638.7 Z" fill="#e8344e"/>
<path d="M860.3,1466.0 A14.5,4.5 0 0 0 889.3,1466.0 L889.3,1626.5 A14.5,4.5 0 0 1 860.3,1626.5 Z" fill="#f2aa22"/>
<path d="M860.3,1458.5 A14.5,4.5 0 0 0 889.3,1458.5 L889.3,1466.0 A14.5,4.5 0 0 1 860.3,1466.0 Z" fill="#8a3aa8"/>
<path d="M860.3,1456.2 A14.5,4.5 0 0 0 889.3,1456.2 L889.3,1458.5 A14.5,4.5 0 0 1 860.3,1458.5 Z" fill="#e8642e"/>
<path d="M860.3,1456.2 L889.3,1456.2 L889.3,1831.2 A14.5,4.5 0 0 1 860.3,1831.2 Z" fill="url(#cyl)"/>
<ellipse cx="874.8" cy="1456.2" rx="14.5" ry="4.5" fill="#e8642e"/>
<ellipse cx="874.8" cy="1456.2" rx="14.5" ry="4.5" fill="#000" fill-opacity="0.12"/>
<path d="M912.1,1825.0 A14.5,4.5 0 0 0 941.1,1825.0 L941.1,1831.2 A14.5,4.5 0 0 1 912.1,1831.2 Z" fill="#4c0c3c"/>
<path d="M912.1,1743.3 A14.5,4.5 0 0 0 941.1,1743.3 L941.1,1825.0 A14.5,4.5 0 0 1 912.1,1825.0 Z" fill="#30a034"/>
<path d="M912.1,1733.0 A14.5,4.5 0 0 0 941.1,1733.0 L941.1,1743.3 A14.5,4.5 0 0 1 912.1,1743.3 Z" fill="#7a3a9c"/>
<path d="M912.1,1720.0 A14.5,4.5 0 0 0 941.1,1720.0 L941.1,1733.0 A14.5,4.5 0 0 1 912.1,1733.0 Z" fill="#3a8cb4"/>
<path d="M912.1,1715.0 A14.5,4.5 0 0 0 941.1,1715.0 L941.1,1720.0 A14.5,4.5 0 0 1 912.1,1720.0 Z" fill="#d8662c"/>
<path d="M912.1,1623.0 A14.5,4.5 0 0 0 941.1,1623.0 L941.1,1715.0 A14.5,4.5 0 0 1 912.1,1715.0 Z" fill="#e6e624"/>
<path d="M912.1,1609.7 A14.5,4.5 0 0 0 941.1,1609.7 L941.1,1623.0 A14.5,4.5 0 0 1 912.1,1623.0 Z" fill="#e8344e"/>
<path d="M912.1,1437.0 A14.5,4.5 0 0 0 941.1,1437.0 L941.1,1609.7 A14.5,4.5 0 0 1 912.1,1609.7 Z" fill="#f2aa22"/>
<path d="M912.1,1429.5 A14.5,4.5 0 0 0 941.1,1429.5 L941.1,1437.0 A14.5,4.5 0 0 1 912.1,1437.0 Z" fill="#8a3aa8"/>
<path d="M912.1,1427.2 A14.5,4.5 0 0 0 941.1,1427.2 L941.1,1429.5 A14.5,4.5 0 0 1 912.1,1429.5 Z" fill="#e8642e"/>
<path d="M912.1,1427.2 L941.1,1427.2 L941.1,1831.2 A14.5,4.5 0 0 1 912.1,1831.2 Z" fill="url(#cyl)"/>
<ellipse cx="926.6" cy="1427.2" rx="14.5" ry="4.5" fill="#e8642e"/>
<ellipse cx="926.6" cy="1427.2" rx="14.5" ry="4.5" fill="#000" fill-opacity="0.12"/>
<path d="M963.9,1823.3 A14.5,4.5 0 0 0 992.9,1823.3 L992.9,1831.2 A14.5,4.5 0 0 1 963.9,1831.2 Z" fill="#4c0c3c"/>
<path d="M963.9,1813.3 A14.5,4.5 0 0 0 992.9,1813.3 L992.9,1823.3 A14.5,4.5 0 0 1 963.9,1823.3 Z" fill="#30a034"/>
<path d="M963.9,1803.0 A14.5,4.5 0 0 0 992.9,1803.0 L992.9,1813.3 A14.5,4.5 0 0 1 963.9,1813.3 Z" fill="#7a3a9c"/>
<path d="M963.9,1797.0 A14.5,4.5 0 0 0 992.9,1797.0 L992.9,1803.0 A14.5,4.5 0 0 1 963.9,1803.0 Z" fill="#3a8cb4"/>
<path d="M963.9,1791.7 A14.5,4.5 0 0 0 992.9,1791.7 L992.9,1797.0 A14.5,4.5 0 0 1 963.9,1797.0 Z" fill="#d8662c"/>
<path d="M963.9,1708.0 A14.5,4.5 0 0 0 992.9,1708.0 L992.9,1791.7 A14.5,4.5 0 0 1 963.9,1791.7 Z" fill="#e6e624"/>
<path d="M963.9,1692.7 A14.5,4.5 0 0 0 992.9,1692.7 L992.9,1708.0 A14.5,4.5 0 0 1 963.9,1708.0 Z" fill="#e8344e"/>
<path d="M963.9,1548.0 A14.5,4.5 0 0 0 992.9,1548.0 L992.9,1692.7 A14.5,4.5 0 0 1 963.9,1692.7 Z" fill="#f2aa22"/>
<path d="M963.9,1525.3 A14.5,4.5 0 0 0 992.9,1525.3 L992.9,1548.0 A14.5,4.5 0 0 1 963.9,1548.0 Z" fill="#4a3a8c"/>
<path d="M963.9,1509.6 A14.5,4.5 0 0 0 992.9,1509.6 L992.9,1525.3 A14.5,4.5 0 0 1 963.9,1525.3 Z" fill="#28b2da"/>
<path d="M963.9,1506.1 A14.5,4.5 0 0 0 992.9,1506.1 L992.9,1509.6 A14.5,4.5 0 0 1 963.9,1509.6 Z" fill="#e8642e"/>
<path d="M963.9,1506.1 L992.9,1506.1 L992.9,1831.2 A14.5,4.5 0 0 1 963.9,1831.2 Z" fill="url(#cyl)"/>
<ellipse cx="978.4" cy="1506.1" rx="14.5" ry="4.5" fill="#e8642e"/>
<ellipse cx="978.4" cy="1506.1" rx="14.5" ry="4.5" fill="#000" fill-opacity="0.12"/>
<text x="146.7" y="1645.0" font-family="'Liberation Serif','Noto Serif CJK SC',serif" font-size="19.5" text-anchor="middle" dominant-baseline="central" fill="#1a1a1a" font-weight="normal" >38</text>
<text x="150.0" y="1738.3" font-family="'Liberation Serif','Noto Serif CJK SC',serif" font-size="19.5" text-anchor="middle" dominant-baseline="central" fill="#1a1a1a" font-weight="normal" >73</text>
<text x="196.7" y="1655.0" font-family="'Liberation Serif','Noto Serif CJK SC',serif" font-size="19.5" text-anchor="middle" dominant-baseline="central" fill="#1a1a1a" font-weight="normal" >43</text>
<text x="199.3" y="1744.3" font-family="'Liberation Serif','Noto Serif CJK SC',serif" font-size="19.5" text-anchor="middle" dominant-baseline="central" fill="#1a1a1a" font-weight="normal" >86</text>
<text x="250.7" y="1617.3" font-family="'Liberation Serif','Noto Serif CJK SC',serif" font-size="19.5" text-anchor="middle" dominant-baseline="central" fill="#1a1a1a" font-weight="normal" >23</text>
<text x="252.3" y="1722.7" font-family="'Liberation Serif','Noto Serif CJK SC',serif" font-size="19.5" text-anchor="middle" dominant-baseline="central" fill="#1a1a1a" font-weight="normal" >94</text>
<text x="301.7" y="1631.7" font-family="'Liberation Serif','Noto Serif CJK SC',serif" font-size="19.5" text-anchor="middle" dominant-baseline="central" fill="#1a1a1a" font-weight="normal" >38</text>
<text x="306.7" y="1721.0" font-family="'Liberation Serif','Noto Serif CJK SC',serif" font-size="19.5" text-anchor="middle" dominant-baseline="central" fill="#1a1a1a" font-weight="normal" >60</text>
<text x="350.0" y="1525.0" font-family="'Liberation Serif','Noto Serif CJK SC',serif" font-size="19.5" text-anchor="middle" dominant-baseline="central" fill="#1a1a1a" font-weight="normal" >161</text>
<text x="351.7" y="1693.3" font-family="'Liberation Serif','Noto Serif CJK SC',serif" font-size="19.5" text-anchor="middle" dominant-baseline="central" fill="#1a1a1a" font-weight="normal" >111</text>
<text x="351.7" y="1738.3" font-family="'Liberation Serif','Noto Serif CJK SC',serif" font-size="19.5" text-anchor="middle" dominant-baseline="central" fill="#1a1a1a" font-weight="normal" >9</text>
<text x="408.3" y="1480.0" font-family="'Liberation Serif','Noto Serif CJK SC',serif" font-size="19.5" text-anchor="middle" dominant-baseline="central" fill="#1a1a1a" font-weight="normal" >189</text>
<text x="408.3" y="1675.0" font-family="'Liberation Serif','Noto Serif CJK SC',serif" font-size="19.5" text-anchor="middle" dominant-baseline="central" fill="#1a1a1a" font-weight="normal" >171</text>
<text x="406.7" y="1746.7" font-family="'Liberation Serif','Noto Serif CJK SC',serif" font-size="19.5" text-anchor="middle" dominant-baseline="central" fill="#1a1a1a" font-weight="normal" >8</text>
<text x="455.0" y="1479.3" font-family="'Liberation Serif','Noto Serif CJK SC',serif" font-size="19.5" text-anchor="middle" dominant-baseline="central" fill="#1a1a1a" font-weight="normal" >242</text>
<text x="455.0" y="1666.7" font-family="'Liberation Serif','Noto Serif CJK SC',serif" font-size="19.5" text-anchor="middle" dominant-baseline="central" fill="#1a1a1a" font-weight="normal" >154</text>
<text x="456.7" y="1754.0" font-family="'Liberation Serif','Noto Serif CJK SC',serif" font-size="19.5" text-anchor="middle" dominant-baseline="central" fill="#1a1a1a" font-weight="normal" >39</text>
<text x="508.3" y="1572.3" font-family="'Liberation Serif','Noto Serif CJK SC',serif" font-size="19.5" text-anchor="middle" dominant-baseline="central" fill="#1a1a1a" font-weight="normal" >207</text>
<text x="508.3" y="1708.3" font-family="'Liberation Serif','Noto Serif CJK SC',serif" font-size="19.5" text-anchor="middle" dominant-baseline="central" fill="#1a1a1a" font-weight="normal" >96</text>
<text x="506.7" y="1786.7" font-family="'Liberation Serif','Noto Serif CJK SC',serif" font-size="19.5" text-anchor="middle" dominant-baseline="central" fill="#1a1a1a" font-weight="normal" >61</text>
<text x="563.3" y="1624.0" font-family="'Liberation Serif','Noto Serif CJK SC',serif" font-size="19.5" text-anchor="middle" dominant-baseline="central" fill="#1a1a1a" font-weight="normal" >166</text>
<text x="561.7" y="1733.3" font-family="'Liberation Serif','Noto Serif CJK SC',serif" font-size="19.5" text-anchor="middle" dominant-baseline="central" fill="#1a1a1a" font-weight="normal" >77</text>
<text x="558.3" y="1796.7" font-family="'Liberation Serif','Noto Serif CJK SC',serif" font-size="19.5" text-anchor="middle" dominant-baseline="central" fill="#1a1a1a" font-weight="normal" >47</text>
<text x="616.0" y="1689.3" font-family="'Liberation Serif','Noto Serif CJK SC',serif" font-size="19.5" text-anchor="middle" dominant-baseline="central" fill="#1a1a1a" font-weight="normal" >120</text>
<text x="614.0" y="1756.7" font-family="'Liberation Serif','Noto Serif CJK SC',serif" font-size="19.5" text-anchor="middle" dominant-baseline="central" fill="#1a1a1a" font-weight="normal" >50</text>
<text x="615.0" y="1808.3" font-family="'Liberation Serif','Noto Serif CJK SC',serif" font-size="19.5" text-anchor="middle" dominant-baseline="central" fill="#1a1a1a" font-weight="normal" >26</text>
<text x="667.3" y="1670.7" font-family="'Liberation Serif','Noto Serif CJK SC',serif" font-size="19.5" text-anchor="middle" dominant-baseline="central" fill="#1a1a1a" font-weight="normal" >139</text>
<text x="663.3" y="1744.0" font-family="'Liberation Serif','Noto Serif CJK SC',serif" font-size="19.5" text-anchor="middle" dominant-baseline="central" fill="#1a1a1a" font-weight="normal" >24</text>
<text x="666.0" y="1791.7" font-family="'Liberation Serif','Noto Serif CJK SC',serif" font-size="19.5" text-anchor="middle" dominant-baseline="central" fill="#1a1a1a" font-weight="normal" >56</text>
<text x="716.0" y="1668.3" font-family="'Liberation Serif','Noto Serif CJK SC',serif" font-size="19.5" text-anchor="middle" dominant-baseline="central" fill="#1a1a1a" font-weight="normal" >159</text>
<text x="715.0" y="1746.0" font-family="'Liberation Serif','Noto Serif CJK SC',serif" font-size="19.5" text-anchor="middle" dominant-baseline="central" fill="#1a1a1a" font-weight="normal" >27</text>
<text x="716.7" y="1798.3" font-family="'Liberation Serif','Noto Serif CJK SC',serif" font-size="19.5" text-anchor="middle" dominant-baseline="central" fill="#1a1a1a" font-weight="normal" >58</text>
<text x="765.0" y="1626.0" font-family="'Liberation Serif','Noto Serif CJK SC',serif" font-size="19.5" text-anchor="middle" dominant-baseline="central" fill="#1a1a1a" font-weight="normal" >193</text>
<text x="766.7" y="1716.0" font-family="'Liberation Serif','Noto Serif CJK SC',serif" font-size="19.5" text-anchor="middle" dominant-baseline="central" fill="#1a1a1a" font-weight="normal" >35</text>
<text x="770.0" y="1789.3" font-family="'Liberation Serif','Noto Serif CJK SC',serif" font-size="19.5" text-anchor="middle" dominant-baseline="central" fill="#1a1a1a" font-weight="normal" >94</text>
<text x="822.4" y="1647.4" font-family="'Liberation Serif','Noto Serif CJK SC',serif" font-size="19.5" text-anchor="middle" dominant-baseline="central" fill="#1a1a1a" font-weight="normal" >139</text>
<text x="818.3" y="1720.0" font-family="'Liberation Serif','Noto Serif CJK SC',serif" font-size="19.5" text-anchor="middle" dominant-baseline="central" fill="#1a1a1a" font-weight="normal" >43</text>
<text x="823.3" y="1788.3" font-family="'Liberation Serif','Noto Serif CJK SC',serif" font-size="19.5" text-anchor="middle" dominant-baseline="central" fill="#1a1a1a" font-weight="normal" >92</text>
<text x="872.7" y="1553.0" font-family="'Liberation Serif','Noto Serif CJK SC',serif" font-size="19.5" text-anchor="middle" dominant-baseline="central" fill="#1a1a1a" font-weight="normal" >223</text>
<text x="871.7" y="1666.7" font-family="'Liberation Serif','Noto Serif CJK SC',serif" font-size="19.5" text-anchor="middle" dominant-baseline="central" fill="#1a1a1a" font-weight="normal" >72</text>
<text x="870.0" y="1775.0" font-family="'Liberation Serif','Noto Serif CJK SC',serif" font-size="19.5" text-anchor="middle" dominant-baseline="central" fill="#1a1a1a" font-weight="normal" >129</text>
<text x="921.5" y="1527.0" font-family="'Liberation Serif','Noto Serif CJK SC',serif" font-size="19.5" text-anchor="middle" dominant-baseline="central" fill="#1a1a1a" font-weight="normal" >233</text>
<text x="923.3" y="1670.0" font-family="'Liberation Serif','Noto Serif CJK SC',serif" font-size="19.5" text-anchor="middle" dominant-baseline="central" fill="#1a1a1a" font-weight="normal" >127</text>
<text x="920.0" y="1788.3" font-family="'Liberation Serif','Noto Serif CJK SC',serif" font-size="19.5" text-anchor="middle" dominant-baseline="central" fill="#1a1a1a" font-weight="normal" >114</text>
<text x="969.9" y="1624.7" font-family="'Liberation Serif','Noto Serif CJK SC',serif" font-size="19.5" text-anchor="middle" dominant-baseline="central" fill="#1a1a1a" font-weight="normal" >203</text>
<text x="976.7" y="1753.3" font-family="'Liberation Serif','Noto Serif CJK SC',serif" font-size="19.5" text-anchor="middle" dominant-baseline="central" fill="#1a1a1a" font-weight="normal" >114</text>
<text x="976.7" y="1816.0" font-family="'Liberation Serif','Noto Serif CJK SC',serif" font-size="19.5" text-anchor="middle" dominant-baseline="central" fill="#1a1a1a" font-weight="normal" >13</text>
<text x="136.7" y="1866.5" font-family="'Liberation Serif','Noto Serif CJK SC',serif" font-size="20" text-anchor="middle" dominant-baseline="central" fill="#1a1a1a" font-weight="normal" >2000</text>
<text x="192.5" y="1866.5" font-family="'Liberation Serif','Noto Serif CJK SC',serif" font-size="20" text-anchor="middle" dominant-baseline="central" fill="#1a1a1a" font-weight="normal" >2001</text>
<text x="244.2" y="1866.5" font-family="'Liberation Serif','Noto Serif CJK SC',serif" font-size="20" text-anchor="middle" dominant-baseline="central" fill="#1a1a1a" font-weight="normal" >2002</text>
<text x="294.2" y="1866.5" font-family="'Liberation Serif','Noto Serif CJK SC',serif" font-size="20" text-anchor="middle" dominant-baseline="central" fill="#1a1a1a" font-weight="normal" >2003</text>
<text x="345.8" y="1866.5" font-family="'Liberation Serif','Noto Serif CJK SC',serif" font-size="20" text-anchor="middle" dominant-baseline="central" fill="#1a1a1a" font-weight="normal" >2004</text>
<text x="399.2" y="1866.5" font-family="'Liberation Serif','Noto Serif CJK SC',serif" font-size="20" text-anchor="middle" dominant-baseline="central" fill="#1a1a1a" font-weight="normal" >2005</text>
<text x="448.6" y="1866.5" font-family="'Liberation Serif','Noto Serif CJK SC',serif" font-size="20" text-anchor="middle" dominant-baseline="central" fill="#1a1a1a" font-weight="normal" >2006</text>
<text x="499.8" y="1866.5" font-family="'Liberation Serif','Noto Serif CJK SC',serif" font-size="20" text-anchor="middle" dominant-baseline="central" fill="#1a1a1a" font-weight="normal" >2007</text>
<text x="554.3" y="1866.5" font-family="'Liberation Serif','Noto Serif CJK SC',serif" font-size="20" text-anchor="middle" dominant-baseline="central" fill="#1a1a1a" font-weight="normal" >2008</text>
<text x="605.5" y="1866.5" font-family="'Liberation Serif','Noto Serif CJK SC',serif" font-size="20" text-anchor="middle" dominant-baseline="central" fill="#1a1a1a" font-weight="normal" >2009</text>
<text x="653.0" y="1866.5" font-family="'Liberation Serif','Noto Serif CJK SC',serif" font-size="20" text-anchor="middle" dominant-baseline="central" fill="#1a1a1a" font-weight="normal" >2010</text>
<text x="708.0" y="1866.5" font-family="'Liberation Serif','Noto Serif CJK SC',serif" font-size="20" text-anchor="middle" dominant-baseline="central" fill="#1a1a1a" font-weight="normal" >2011</text>
<text x="759.2" y="1866.5" font-family="'Liberation Serif','Noto Serif CJK SC',serif" font-size="20" text-anchor="middle" dominant-baseline="central" fill="#1a1a1a" font-weight="normal" >2012</text>
<text x="810.0" y="1866.5" font-family="'Liberation Serif','Noto Serif CJK SC',serif" font-size="20" text-anchor="middle" dominant-baseline="central" fill="#1a1a1a" font-weight="normal" >2013</text>
<text x="865.0" y="1866.5" font-family="'Liberation Serif','Noto Serif CJK SC',serif" font-size="20" text-anchor="middle" dominant-baseline="central" fill="#1a1a1a" font-weight="normal" >2014</text>
<text x="914.5" y="1866.5" font-family="'Liberation Serif','Noto Serif CJK SC',serif" font-size="20" text-anchor="middle" dominant-baseline="central" fill="#1a1a1a" font-weight="normal" >2015</text>
<text x="967.8" y="1866.5" font-family="'Liberation Serif','Noto Serif CJK SC',serif" font-size="20" text-anchor="middle" dominant-baseline="central" fill="#1a1a1a" font-weight="normal" >2016</text>
<rect x="1032.8" y="1440.5" width="13" height="12" fill="#e8642e" rx="1.5"/>
<rect x="1032.8" y="1440.5" width="13" height="12" fill="url(#sqg)" rx="1.5"/>
<text x="1064.0" y="1452.7" font-family="'Liberation Sans', 'Noto Sans CJK SC', sans-serif" font-size="19.5" text-anchor="start" dominant-baseline="central" fill="#1a1a1a" font-weight="500" >其他</text>
<rect x="1032.8" y="1474.0" width="13" height="12" fill="#28b2da" rx="1.5"/>
<rect x="1032.8" y="1474.0" width="13" height="12" fill="url(#sqg)" rx="1.5"/>
<text x="1064.0" y="1485.2" font-family="'Liberation Sans', 'Noto Sans CJK SC', sans-serif" font-size="19.5" text-anchor="start" dominant-baseline="central" fill="#1a1a1a" font-weight="500" >澳大利亚</text>
<rect x="1032.8" y="1507.5" width="13" height="12" fill="#4a3a8c" rx="1.5"/>
<rect x="1032.8" y="1507.5" width="13" height="12" fill="url(#sqg)" rx="1.5"/>
<text x="1064.0" y="1517.8" font-family="'Liberation Sans', 'Noto Sans CJK SC', sans-serif" font-size="19.5" text-anchor="start" dominant-baseline="central" fill="#1a1a1a" font-weight="500" >越南</text>
<rect x="1032.8" y="1540.9" width="13" height="12" fill="#8a3aa8" rx="1.5"/>
<rect x="1032.8" y="1540.9" width="13" height="12" fill="url(#sqg)" rx="1.5"/>
<text x="1064.0" y="1550.4" font-family="'Liberation Sans', 'Noto Sans CJK SC', sans-serif" font-size="19.5" text-anchor="start" dominant-baseline="central" fill="#1a1a1a" font-weight="500" >英国</text>
<rect x="1032.8" y="1574.4" width="13" height="12" fill="#f2aa22" rx="1.5"/>
<rect x="1032.8" y="1574.4" width="13" height="12" fill="url(#sqg)" rx="1.5"/>
<text x="1064.0" y="1582.9" font-family="'Liberation Sans', 'Noto Sans CJK SC', sans-serif" font-size="19.5" text-anchor="start" dominant-baseline="central" fill="#1a1a1a" font-weight="500" >中国台湾</text>
<rect x="1032.8" y="1607.9" width="13" height="12" fill="#e8344e" rx="1.5"/>
<rect x="1032.8" y="1607.9" width="13" height="12" fill="url(#sqg)" rx="1.5"/>
<text x="1064.0" y="1615.5" font-family="'Liberation Sans', 'Noto Sans CJK SC', sans-serif" font-size="19.5" text-anchor="start" dominant-baseline="central" fill="#1a1a1a" font-weight="500" >墨西哥</text>
<rect x="1032.8" y="1641.4" width="13" height="12" fill="#e6e624" rx="1.5"/>
<rect x="1032.8" y="1641.4" width="13" height="12" fill="url(#sqg)" rx="1.5"/>
<text x="1064.0" y="1648.0" font-family="'Liberation Sans', 'Noto Sans CJK SC', sans-serif" font-size="19.5" text-anchor="start" dominant-baseline="central" fill="#1a1a1a" font-weight="500" >韩国</text>
<rect x="1032.8" y="1674.9" width="13" height="12" fill="#d8662c" rx="1.5"/>
<rect x="1032.8" y="1674.9" width="13" height="12" fill="url(#sqg)" rx="1.5"/>
<text x="1064.0" y="1680.6" font-family="'Liberation Sans', 'Noto Sans CJK SC', sans-serif" font-size="19.5" text-anchor="start" dominant-baseline="central" fill="#1a1a1a" font-weight="500" >日本</text>
<rect x="1032.8" y="1708.3" width="13" height="12" fill="#3a8cb4" rx="1.5"/>
<rect x="1032.8" y="1708.3" width="13" height="12" fill="url(#sqg)" rx="1.5"/>
<text x="1064.0" y="1713.2" font-family="'Liberation Sans', 'Noto Sans CJK SC', sans-serif" font-size="19.5" text-anchor="start" dominant-baseline="central" fill="#1a1a1a" font-weight="500" >印度</text>
<rect x="1032.8" y="1741.8" width="13" height="12" fill="#7a3a9c" rx="1.5"/>
<rect x="1032.8" y="1741.8" width="13" height="12" fill="url(#sqg)" rx="1.5"/>
<text x="1064.0" y="1745.7" font-family="'Liberation Sans', 'Noto Sans CJK SC', sans-serif" font-size="19.5" text-anchor="start" dominant-baseline="central" fill="#1a1a1a" font-weight="500" >德国</text>
<rect x="1032.8" y="1775.3" width="13" height="12" fill="#30a034" rx="1.5"/>
<rect x="1032.8" y="1775.3" width="13" height="12" fill="url(#sqg)" rx="1.5"/>
<text x="1064.0" y="1778.3" font-family="'Liberation Sans', 'Noto Sans CJK SC', sans-serif" font-size="19.5" text-anchor="start" dominant-baseline="central" fill="#1a1a1a" font-weight="500" >中国大陆</text>
<rect x="1032.8" y="1808.8" width="13" height="12" fill="#4c0c3c" rx="1.5"/>
<rect x="1032.8" y="1808.8" width="13" height="12" fill="url(#sqg)" rx="1.5"/>
<text x="1064.0" y="1810.8" font-family="'Liberation Sans', 'Noto Sans CJK SC', sans-serif" font-size="19.5" text-anchor="start" dominant-baseline="central" fill="#1a1a1a" font-weight="500" >加拿大</text>
<text x="423.2" y="1906.1" font-family="'Liberation Sans', 'Noto Sans CJK SC', sans-serif" font-size="23" text-anchor="start" dominant-baseline="central" fill="#1b8cc0" font-weight="500" >图</text>
<text x="453.6" y="1906.4" font-family="'Liberation Serif',serif" font-size="24" text-anchor="start" dominant-baseline="central" fill="#1b8cc0" font-weight="bold" >1-6</text>
<text x="512.8" y="1906.3" font-family="'Liberation Sans', 'Noto Sans CJK SC', sans-serif" font-size="23.5" text-anchor="start" dominant-baseline="central" fill="#1b8cc0" font-weight="500" textLength="249.5" lengthAdjust="spacing">美洲彩涂钢板进口情况</text></svg>
</body></html>
